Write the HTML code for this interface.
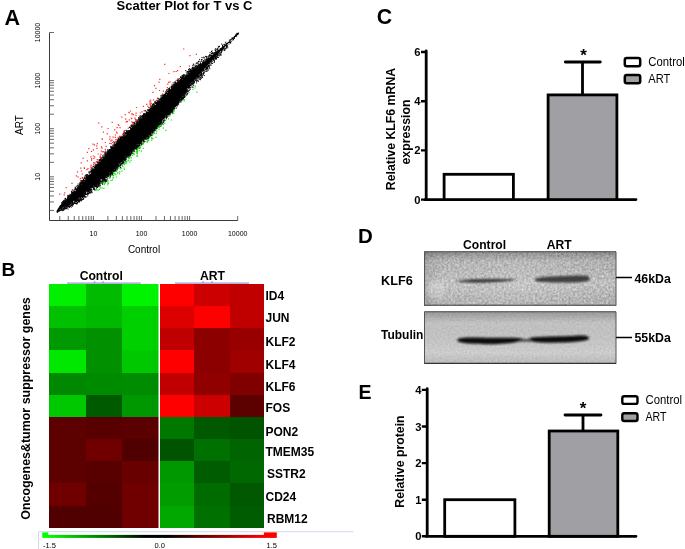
<!DOCTYPE html>
<html><head><meta charset="utf-8"><title>Figure</title>
<style>
html,body{margin:0;padding:0;background:#fff;}
body{width:685px;height:549px;overflow:hidden;}
svg{display:block;}
text{font-family:"Liberation Sans",Arial,sans-serif;fill:#000;}
.b{font-weight:bold;}
</style></head><body>
<svg width="685" height="549" viewBox="0 0 685 549">
<defs><filter id="nz" x="0" y="0" width="100%" height="100%" color-interpolation-filters="sRGB"><feTurbulence type="fractalNoise" baseFrequency="0.45" numOctaves="2" seed="4"/><feColorMatrix type="matrix" values="0.42 0 0 0 0.5  0.42 0 0 0 0.5  0.42 0 0 0 0.5  0 0 0 0 1"/></filter>
<filter id="nz2" x="0" y="0" width="100%" height="100%" color-interpolation-filters="sRGB"><feTurbulence type="fractalNoise" baseFrequency="0.5" numOctaves="2" seed="9"/><feColorMatrix type="matrix" values="0.14 0 0 0 0.71  0.14 0 0 0 0.71  0.14 0 0 0 0.71  0 0 0 0 1"/></filter>
<linearGradient id="g1" x1="0" x2="1" y1="0" y2="0"><stop offset="0" stop-color="#888" stop-opacity="0.25"/><stop offset="0.12" stop-color="#fff" stop-opacity="0.12"/><stop offset="0.5" stop-color="#fff" stop-opacity="0.18"/><stop offset="1" stop-color="#fff" stop-opacity="0.05"/></linearGradient>
<linearGradient id="g1v" x1="0" x2="0" y1="0" y2="1"><stop offset="0" stop-color="#000" stop-opacity="0.28"/><stop offset="0.18" stop-color="#000" stop-opacity="0.05"/><stop offset="0.6" stop-color="#fff" stop-opacity="0.08"/><stop offset="1" stop-color="#000" stop-opacity="0.06"/></linearGradient>
<linearGradient id="g2v" x1="0" x2="0" y1="0" y2="1"><stop offset="0" stop-color="#000" stop-opacity="0.25"/><stop offset="0.22" stop-color="#000" stop-opacity="0.03"/><stop offset="0.8" stop-color="#fff" stop-opacity="0.1"/><stop offset="1" stop-color="#000" stop-opacity="0.05"/></linearGradient>
<filter id="bl1" x="-10%" y="-60%" width="120%" height="220%"><feGaussianBlur stdDeviation="1.6 1.1"/></filter>
<filter id="bl3" x="-10%" y="-60%" width="120%" height="220%"><feGaussianBlur stdDeviation="1.3 0.8"/></filter>
<filter id="bl2" x="-10%" y="-60%" width="120%" height="220%"><feGaussianBlur stdDeviation="1.2 0.9"/></filter>
<linearGradient id="cb" x1="0" x2="1" y1="0" y2="0"><stop offset="0" stop-color="#00ff00"/><stop offset="0.3" stop-color="#006000"/><stop offset="0.45" stop-color="#000"/><stop offset="0.55" stop-color="#000"/><stop offset="0.7" stop-color="#600000"/><stop offset="1" stop-color="#ff0000"/></linearGradient>
</defs>
<!-- Panel A -->
<text class="b" x="4.5" y="24.6" font-size="21.5">A</text>
<text class="b" x="184.5" y="10" font-size="13" text-anchor="middle">Scatter Plot for T vs C</text>
<path d="M49.5 32.50V220.5H237.70" fill="none" stroke="#3a3a3a" stroke-width="1"/>
<path d="M59.78 220.5v-4.5M49.5 210.42h4.5M68.25 220.5v-4.5M49.5 201.95h4.5M74.26 220.5v-4.5M49.5 195.94h4.5M78.92 220.5v-4.5M49.5 191.28h4.5M82.73 220.5v-4.5M49.5 187.47h4.5M85.95 220.5v-4.5M49.5 184.25h4.5M88.74 220.5v-4.5M49.5 181.46h4.5M91.20 220.5v-4.5M49.5 179.00h4.5M93.40 220.5v-4.5M49.5 176.80h4.5M107.88 220.5v-4.5M49.5 162.32h4.5M116.35 220.5v-4.5M49.5 153.85h4.5M122.36 220.5v-4.5M49.5 147.84h4.5M127.02 220.5v-4.5M49.5 143.18h4.5M130.83 220.5v-4.5M49.5 139.37h4.5M134.05 220.5v-4.5M49.5 136.15h4.5M136.84 220.5v-4.5M49.5 133.36h4.5M139.30 220.5v-4.5M49.5 130.90h4.5M141.50 220.5v-4.5M49.5 128.70h4.5M155.98 220.5v-4.5M49.5 114.22h4.5M164.45 220.5v-4.5M49.5 105.75h4.5M170.46 220.5v-4.5M49.5 99.74h4.5M175.12 220.5v-4.5M49.5 95.08h4.5M178.93 220.5v-4.5M49.5 91.27h4.5M182.15 220.5v-4.5M49.5 88.05h4.5M184.94 220.5v-4.5M49.5 85.26h4.5M187.40 220.5v-4.5M49.5 82.80h4.5M189.60 220.5v-4.5M49.5 80.60h4.5M237.70 220.5v-4.5M49.5 32.50h4.5" fill="none" stroke="#444" stroke-width="0.8"/>
<text x="93.4" y="235.8" font-size="7" text-anchor="middle">10</text>
<text transform="translate(39.5 176.8) rotate(-90)" font-size="7" text-anchor="middle">10</text>
<text x="141.5" y="235.8" font-size="7" text-anchor="middle">100</text>
<text transform="translate(39.5 128.7) rotate(-90)" font-size="7" text-anchor="middle">100</text>
<text x="189.6" y="235.8" font-size="7" text-anchor="middle">1000</text>
<text transform="translate(39.5 80.6) rotate(-90)" font-size="7" text-anchor="middle">1000</text>
<text x="237.7" y="235.8" font-size="7" text-anchor="middle">10000</text>
<text transform="translate(39.5 32.5) rotate(-90)" font-size="7" text-anchor="middle">10000</text>
<text x="144" y="253.3" font-size="10" text-anchor="middle">Control</text>
<text transform="translate(23 125) rotate(-90)" font-size="10" text-anchor="middle">ART</text>
<polygon points="56.5,211.2 57.5,209.8 58.5,208.4 59.5,206.9 60.5,205.4 61.5,204.0 62.5,203.1 63.5,202.2 64.5,201.4 65.5,200.5 66.5,199.6 67.5,198.8 68.5,197.9 69.5,197.0 70.5,196.1 71.5,195.2 72.5,194.2 73.5,193.3 74.5,192.4 75.5,191.4 76.5,190.4 77.5,189.4 78.5,188.3 79.5,187.2 80.5,186.0 81.5,184.9 82.5,183.7 83.5,182.6 84.5,181.4 85.5,180.3 86.5,179.1 87.5,178.0 88.5,176.8 89.5,175.7 90.5,174.5 91.5,173.3 92.5,172.2 93.5,171.0 94.5,169.8 95.5,168.6 96.5,167.5 97.5,166.3 98.5,165.1 99.5,163.9 100.5,162.7 101.5,161.5 102.5,160.3 103.5,159.1 104.5,157.9 105.5,156.8 106.5,155.7 107.5,154.6 108.5,153.4 109.5,152.3 110.5,151.3 111.5,150.3 112.5,149.2 113.5,148.2 114.5,147.2 115.5,146.2 116.5,145.2 117.5,144.1 118.5,143.1 119.5,142.1 120.5,141.1 121.5,140.1 122.5,139.0 123.5,138.0 124.5,137.0 125.5,136.0 126.5,135.0 127.5,133.9 128.5,132.9 129.5,131.9 130.5,130.9 131.5,129.9 132.5,128.8 133.5,127.8 134.5,126.8 135.5,125.8 136.5,124.8 137.5,123.8 138.5,122.7 139.5,121.7 140.5,120.7 141.5,119.7 142.5,118.7 143.5,117.6 144.5,116.6 145.5,115.6 146.5,114.6 147.5,113.6 148.5,112.5 149.5,111.5 150.5,110.5 151.5,109.5 152.5,108.5 153.5,107.5 154.5,106.5 155.5,105.5 156.5,104.5 157.5,103.5 158.5,102.4 159.5,101.4 160.5,100.4 161.5,99.4 162.5,98.4 163.5,97.4 164.5,96.4 165.5,95.4 166.5,94.4 167.5,93.4 168.5,92.4 169.5,91.4 170.5,90.4 171.5,89.5 172.5,88.7 173.5,87.8 174.5,86.9 175.5,86.0 176.5,85.1 177.5,84.2 178.5,83.3 179.5,82.4 180.5,81.5 181.5,80.6 182.5,79.7 183.5,78.8 184.5,77.9 185.5,77.0 186.5,76.1 187.5,75.2 188.5,74.3 189.5,73.3 190.5,72.4 191.5,71.5 192.5,70.7 193.5,69.9 194.5,69.2 195.5,68.4 196.5,67.7 197.5,66.9 198.5,66.2 199.5,65.4 200.5,64.6 201.5,63.9 202.5,63.1 203.5,62.3 204.5,61.5 205.5,60.7 206.5,60.0 207.5,59.2 208.5,58.4 209.5,57.6 210.5,56.8 211.5,56.0 212.5,55.2 213.5,54.3 214.5,53.5 215.5,52.7 216.5,51.9 217.5,51.1 218.5,50.2 219.5,49.4 220.5,48.6 221.5,47.7 222.5,46.9 223.5,46.1 224.5,45.2 225.5,44.4 226.5,43.5 227.5,42.6 228.5,41.7 229.5,40.8 230.5,39.9 231.5,39.0 232.5,38.1 233.5,37.2 234.5,36.2 235.5,35.2 236.5,34.3 237.5,33.3 238.5,32.3 238.8,32.0 238.8,32.6 238.5,32.9 237.5,33.9 236.5,34.9 235.5,35.8 234.5,36.8 233.5,37.9 232.5,38.9 231.5,39.9 230.5,41.0 229.5,42.0 228.5,43.1 227.5,44.2 226.5,45.2 225.5,46.2 224.5,47.2 223.5,48.2 222.5,49.2 221.5,50.3 220.5,51.3 219.5,52.3 218.5,53.4 217.5,54.4 216.5,55.4 215.5,56.5 214.5,57.6 213.5,58.7 212.5,59.8 211.5,60.9 210.5,62.0 209.5,63.1 208.5,64.2 207.5,65.3 206.5,66.4 205.5,67.5 204.5,68.7 203.5,69.8 202.5,70.8 201.5,71.8 200.5,72.9 199.5,73.9 198.5,75.0 197.5,76.0 196.5,77.1 195.5,78.2 194.5,79.2 193.5,80.3 192.5,81.4 191.5,82.5 190.5,83.8 189.5,85.0 188.5,86.3 187.5,87.6 186.5,88.9 185.5,90.2 184.5,91.5 183.5,92.8 182.5,94.1 181.5,95.4 180.5,96.7 179.5,98.0 178.5,99.3 177.5,100.7 176.5,102.0 175.5,103.3 174.5,104.5 173.5,105.7 172.5,107.0 171.5,108.2 170.5,109.4 169.5,110.5 168.5,111.6 167.5,112.6 166.5,113.7 165.5,114.8 164.5,115.9 163.5,117.0 162.5,118.0 161.5,119.1 160.5,120.2 159.5,121.3 158.5,122.3 157.5,123.4 156.5,124.5 155.5,125.6 154.5,126.6 153.5,127.7 152.5,128.8 151.5,129.9 150.5,130.9 149.5,132.0 148.5,133.0 147.5,134.0 146.5,135.0 145.5,136.0 144.5,137.0 143.5,138.0 142.5,139.0 141.5,140.0 140.5,141.0 139.5,142.0 138.5,143.0 137.5,144.0 136.5,145.0 135.5,146.0 134.5,147.0 133.5,148.0 132.5,149.0 131.5,150.0 130.5,151.0 129.5,152.0 128.5,153.0 127.5,154.0 126.5,155.0 125.5,156.0 124.5,157.0 123.5,158.0 122.5,159.0 121.5,160.0 120.5,161.0 119.5,162.0 118.5,163.0 117.5,164.0 116.5,165.0 115.5,166.0 114.5,167.0 113.5,168.0 112.5,169.0 111.5,170.0 110.5,171.0 109.5,172.0 108.5,172.9 107.5,173.8 106.5,174.7 105.5,175.6 104.5,176.4 103.5,177.2 102.5,178.0 101.5,178.8 100.5,179.6 99.5,180.4 98.5,181.2 97.5,182.0 96.5,182.8 95.5,183.6 94.5,184.4 93.5,185.2 92.5,186.0 91.5,186.8 90.5,187.6 89.5,188.5 88.5,189.3 87.5,190.1 86.5,190.9 85.5,191.7 84.5,192.6 83.5,193.4 82.5,194.2 81.5,195.1 80.5,195.9 79.5,196.7 78.5,197.6 77.5,198.3 76.5,199.0 75.5,199.6 74.5,200.3 73.5,201.0 72.5,201.7 71.5,202.5 70.5,203.2 69.5,203.8 68.5,204.4 67.5,204.9 66.5,205.5 65.5,206.1 64.5,206.7 63.5,207.2 62.5,207.8 61.5,208.4 60.5,209.0 59.5,209.7 58.5,210.4 57.5,211.0 56.5,211.8" fill="#000"/>
<path d="M115.5 147.2h1M123.2 139.6h1M69.2 206.1h1M97.2 165.2h1M234.5 36.4h1M78.0 189.1h1M173.0 89.6h1M94.0 185.0h1M139.1 120.3h1M161.2 97.7h1M132.7 149.2h1M178.3 79.9h1M183.3 77.9h1M177.6 81.9h1M206.3 68.5h1M140.7 139.9h1M80.1 199.5h1M138.4 119.6h1M107.3 178.0h1M84.0 192.9h1M163.9 116.8h1M182.4 78.0h1M128.0 154.7h1M68.8 204.2h1M75.0 203.4h1M83.6 193.5h1M141.4 139.0h1M104.8 175.4h1M152.8 109.4h1M183.4 92.7h1M153.6 127.4h1M191.4 71.4h1M61.6 209.8h1M138.0 118.8h1M96.7 182.4h1M143.9 118.1h1M193.3 83.7h1M128.7 130.9h1M79.7 184.3h1M176.3 86.4h1M152.5 132.5h1M95.0 183.9h1M103.8 181.0h1M140.0 120.4h1M148.0 114.4h1M89.9 175.6h1M188.7 87.5h1M199.5 65.5h1M197.3 63.7h1M137.3 122.9h1M139.0 147.0h1M103.8 155.7h1M78.7 197.1h1M178.5 83.7h1M176.9 80.0h1M208.3 65.7h1M92.2 173.5h1M136.8 146.2h1M75.6 202.0h1M80.1 183.6h1M160.5 119.2h1M134.0 125.5h1M139.2 118.1h1M80.1 195.5h1M65.7 206.4h1M109.4 171.8h1M102.2 159.7h1M143.0 141.3h1M146.7 135.8h1M172.4 105.7h1M103.1 181.2h1M178.7 99.0h1M85.2 197.2h1M156.2 104.9h1M143.0 138.9h1M104.7 174.8h1M112.0 148.6h1M176.4 85.0h1M188.5 90.2h1M170.9 90.8h1M148.4 109.5h1M182.9 92.9h1M158.3 100.8h1M192.9 68.4h1M190.8 83.6h1M93.9 169.6h1M143.8 115.7h1M70.6 205.0h1M160.0 120.6h1M182.7 95.1h1M141.5 119.9h1M227.2 46.7h1M138.4 147.2h1M162.5 94.4h1M145.1 137.1h1M111.5 170.2h1M209.5 54.8h1M109.3 177.9h1M122.3 157.8h1M208.7 58.3h1M149.6 136.7h1M156.6 126.5h1M193.7 79.6h1M79.7 197.0h1M176.1 85.3h1M86.0 178.9h1M138.5 141.8h1M73.1 203.0h1M193.2 82.0h1M118.2 167.7h1M148.3 113.5h1M101.8 183.6h1M215.6 58.7h1M142.8 139.3h1M76.4 188.1h1M188.1 73.6h1M174.2 104.8h1M183.9 93.7h1M127.2 135.7h1M140.5 117.2h1M99.3 162.0h1M179.5 100.5h1M97.8 182.5h1M92.6 171.2h1M206.0 69.8h1M90.6 189.9h1M83.2 198.4h1M66.0 208.7h1M192.6 70.1h1M117.0 164.2h1M121.5 139.9h1M142.8 119.0h1M220.0 54.4h1M63.9 209.2h1M118.3 142.0h1M187.1 87.2h1M228.5 44.1h1M102.3 182.3h1M167.2 113.3h1M70.9 196.0h1M104.8 177.3h1M138.0 145.2h1M177.6 84.1h1M124.5 156.5h1M161.9 123.9h1M98.7 159.5h1M143.0 114.5h1M110.0 176.3h1M103.9 159.5h1M169.5 109.5h1M103.0 160.6h1M116.2 165.0h1M68.0 205.8h1M73.1 193.2h1M113.4 168.8h1M92.4 185.3h1M133.8 151.2h1M86.1 177.3h1M124.1 157.2h1M225.2 48.8h1M92.5 167.0h1M127.2 131.6h1M199.8 77.8h1M89.9 189.3h1M78.9 184.4h1M159.0 124.5h1M165.8 95.3h1M162.7 97.7h1M145.7 112.8h1M89.2 188.1h1M73.2 194.1h1M198.3 76.5h1M146.2 115.4h1M226.1 46.9h1M205.2 56.6h1M104.4 175.1h1M77.5 188.6h1M157.7 103.8h1M171.3 89.6h1M161.8 98.9h1M192.1 70.8h1M177.5 99.3h1M168.8 88.9h1M97.9 180.3h1M75.9 201.0h1M93.7 184.8h1M100.9 181.4h1M199.1 73.6h1M159.0 101.1h1M190.2 73.5h1M130.5 153.2h1M156.9 123.5h1M148.9 112.9h1M111.2 147.8h1M192.3 70.0h1M75.7 200.1h1M186.2 75.2h1M151.9 104.6h1M216.9 55.3h1M116.1 165.4h1M171.5 84.7h1M188.6 86.1h1M82.9 198.1h1M82.4 196.7h1M183.6 94.3h1M219.0 46.3h1M76.0 198.9h1M108.9 174.7h1M114.7 166.3h1M187.0 93.6h1M136.1 147.5h1M87.6 193.1h1M146.1 136.1h1M208.1 58.6h1M184.0 93.8h1M121.3 163.4h1M218.5 53.9h1M147.9 113.6h1M153.4 106.0h1M116.1 143.7h1M87.4 176.8h1M140.7 140.0h1M84.7 192.7h1M85.8 196.7h1M75.0 188.9h1M135.8 126.7h1M127.3 157.0h1M147.7 133.0h1M130.3 130.6h1M193.1 83.8h1M173.5 107.1h1M133.0 127.0h1M133.7 127.1h1M175.8 104.2h1M74.9 189.7h1M173.0 87.4h1M94.8 186.6h1M66.8 204.7h1M133.2 147.8h1M152.6 108.4h1M142.0 144.0h1M173.0 87.7h1M156.4 104.1h1M105.3 176.1h1M107.8 174.2h1M172.7 111.1h1M171.9 112.1h1M102.1 178.3h1M119.7 139.6h1M209.4 56.0h1M136.5 125.3h1M81.9 195.4h1M146.1 112.1h1M159.1 101.8h1M231.6 38.5h1M167.6 92.9h1M149.6 112.5h1M170.5 90.3h1M152.3 129.4h1M157.5 126.3h1M148.3 107.6h1M200.9 72.9h1M172.2 109.7h1M155.9 123.5h1M176.5 83.4h1M170.8 88.6h1M178.1 84.8h1M123.7 136.8h1M111.6 170.5h1M226.7 43.9h1M131.7 130.5h1M59.3 206.9h1M80.0 186.4h1M90.7 171.6h1M189.5 70.8h1M58.6 207.8h1M113.2 171.5h1M67.4 198.1h1M122.7 138.5h1M109.8 149.7h1M117.0 141.6h1M112.8 148.6h1M166.2 95.3h1M104.5 154.6h1M160.8 97.3h1M72.0 194.6h1M167.1 112.3h1M140.3 118.6h1M162.2 97.9h1M163.9 116.0h1M122.6 159.5h1M124.7 134.5h1M165.4 97.1h1M145.2 138.9h1M102.8 176.9h1M128.9 132.7h1M178.6 99.0h1M63.5 209.8h1M209.1 55.3h1M236.1 35.9h1M179.9 79.7h1M115.6 166.4h1M100.0 164.4h1M92.1 172.5h1M82.0 199.2h1M171.1 111.5h1M171.0 107.8h1M157.4 103.9h1M84.9 180.9h1M146.0 115.6h1M178.3 99.3h1M93.3 164.9h1M74.3 193.0h1M118.6 165.9h1M90.4 174.8h1M81.7 182.6h1M71.0 194.9h1M94.1 167.1h1M93.4 170.3h1M117.6 143.6h1M215.5 59.2h1M86.3 180.3h1M137.8 146.1h1M186.1 77.0h1M150.1 111.8h1M97.3 182.3h1M62.0 204.0h1M165.8 93.5h1M64.7 207.1h1M78.7 199.3h1M83.3 182.9h1M133.2 127.5h1M198.1 75.8h1M211.0 51.5h1M101.9 160.7h1M69.1 198.2h1M217.8 50.5h1M106.3 154.4h1M151.4 110.0h1M174.5 82.2h1M105.4 157.9h1M80.4 195.9h1M72.5 192.7h1M175.1 85.6h1M168.2 111.3h1M149.9 112.5h1M213.6 53.3h1M197.3 80.3h1M67.8 206.3h1M191.2 83.6h1M168.9 91.0h1M143.1 114.4h1M215.3 51.4h1M132.7 127.3h1M139.0 122.5h1M157.7 126.0h1M147.6 133.5h1M161.4 122.9h1M134.2 146.1h1M147.2 112.5h1M150.8 110.0h1M164.9 94.2h1M74.5 201.7h1M145.2 110.4h1M153.1 128.4h1M182.3 76.0h1M85.0 180.0h1M89.8 174.6h1M172.5 109.4h1M182.4 97.8h1M178.3 100.7h1M174.4 85.7h1M78.6 189.0h1M87.6 175.9h1M67.8 198.0h1M121.0 159.9h1M162.6 117.8h1M169.6 114.6h1M113.9 147.9h1M127.6 154.2h1M144.8 135.9h1M109.5 172.9h1M130.0 154.3h1M101.2 178.4h1M177.6 102.5h1M105.7 176.3h1M203.2 72.7h1M97.9 183.7h1M123.6 138.1h1M78.9 187.6h1M126.7 135.0h1M72.2 194.1h1M76.4 200.0h1M68.5 204.2h1M108.0 151.1h1M213.5 58.3h1M177.5 102.8h1M101.8 180.1h1M190.3 82.8h1M92.6 184.8h1M172.9 86.9h1M102.9 160.0h1M108.7 152.2h1M101.1 162.1h1M193.1 69.3h1M207.6 69.9h1M171.0 110.6h1M149.8 133.8h1M184.6 93.2h1M172.7 105.5h1M131.5 149.3h1M178.7 100.2h1M111.1 171.5h1M195.1 66.8h1M77.4 197.9h1M107.7 154.0h1M115.7 164.8h1M193.3 64.3h1M76.3 198.9h1M174.0 85.8h1M101.3 182.0h1M110.5 147.8h1M116.1 145.8h1M157.0 104.8h1M159.8 98.8h1M147.6 134.9h1M181.9 99.8h1M91.3 190.7h1M200.0 75.8h1M133.3 150.3h1M221.3 51.3h1M120.0 161.5h1M204.4 59.8h1M144.1 137.7h1M61.6 203.8h1M176.9 84.2h1M159.5 121.0h1M156.4 105.2h1M153.3 128.9h1M160.9 99.1h1M130.9 154.0h1M186.8 94.7h1M128.0 132.1h1M67.0 204.7h1M95.4 167.8h1M169.7 87.1h1M87.1 193.3h1M207.0 68.9h1M188.1 75.3h1M202.9 60.5h1M91.7 171.9h1M60.3 205.7h1M109.4 171.6h1M154.7 102.3h1M118.9 139.1h1M63.0 201.6h1M143.2 117.3h1M167.9 112.1h1M163.9 116.6h1M161.7 117.7h1M117.3 168.9h1M83.1 193.8h1M104.3 153.0h1M172.2 110.3h1M111.9 148.9h1M120.4 159.9h1M144.3 136.7h1M81.2 184.4h1M160.2 119.3h1M112.7 145.0h1M71.1 191.3h1M197.7 67.5h1M103.4 177.3h1M96.3 184.9h1M174.6 81.9h1M81.4 181.3h1M116.1 145.1h1M118.1 162.4h1M117.5 144.5h1M188.5 85.6h1M196.4 66.8h1M163.8 95.9h1M191.6 68.1h1M112.9 148.5h1M151.9 128.1h1M176.0 108.0h1M194.4 78.5h1M148.0 137.7h1M83.7 178.4h1M147.5 136.8h1M115.5 167.8h1M174.2 88.2h1M131.2 128.8h1M102.4 177.5h1M96.0 187.1h1M105.2 157.4h1M145.0 138.5h1M139.1 122.4h1M122.2 139.7h1M61.0 204.8h1M74.3 193.2h1M62.5 202.3h1M148.5 131.6h1M216.7 55.0h1M89.1 191.3h1M77.0 202.5h1M106.3 173.5h1M149.2 112.0h1M181.9 78.7h1M187.3 89.0h1M127.1 154.1h1M167.9 111.4h1M222.1 46.7h1M156.6 105.5h1M99.2 163.6h1M128.2 131.5h1M171.1 109.8h1M188.0 86.5h1M152.0 109.7h1M173.3 84.9h1M126.0 136.6h1M102.3 181.2h1M139.0 148.3h1M138.4 120.7h1M180.5 81.8h1M118.5 162.5h1M67.0 199.2h1M100.6 181.6h1M93.3 169.6h1M123.4 158.5h1M204.3 71.0h1M186.3 76.3h1M194.3 67.7h1M194.5 68.1h1M142.8 139.4h1M191.5 84.9h1M78.0 200.7h1M159.4 99.5h1M132.7 125.5h1M83.0 183.7h1M106.6 174.6h1M157.8 121.8h1M212.7 59.1h1M124.6 158.0h1M202.6 61.6h1M113.8 168.7h1M106.4 177.2h1M164.4 95.6h1M67.0 199.4h1M158.8 124.0h1M110.3 151.9h1M94.2 187.9h1M132.1 153.3h1M84.7 181.7h1M110.0 151.8h1M115.6 169.0h1M127.9 155.0h1M156.0 127.2h1M180.3 82.1h1M152.5 131.2h1M226.0 47.9h1M155.1 126.1h1M210.6 57.2h1M65.6 206.2h1M110.9 151.8h1M140.6 121.4h1M80.6 196.5h1M86.4 178.7h1M83.7 182.9h1M154.2 126.3h1M148.9 132.7h1M79.7 185.5h1M145.5 113.8h1M193.2 79.6h1M151.0 111.0h1M99.1 162.4h1M101.3 162.8h1M182.6 97.1h1M224.4 44.8h1M72.6 192.6h1M119.3 161.6h1M200.8 76.1h1M193.5 82.6h1M199.9 64.8h1M192.4 65.5h1M135.9 122.2h1M228.9 40.1h1M209.3 64.1h1M146.3 112.8h1M207.0 68.3h1M118.4 141.0h1M145.7 138.7h1M166.7 112.9h1M109.8 173.7h1M177.0 103.0h1M206.5 71.3h1M167.7 113.5h1M86.1 191.3h1M139.4 141.9h1M157.3 103.2h1M137.5 145.9h1M125.0 132.7h1M181.1 98.9h1M62.9 210.4h1M82.8 184.2h1M192.7 83.9h1M155.7 103.3h1M179.8 79.6h1M107.1 151.7h1M119.8 138.6h1M191.1 82.0h1M112.9 168.5h1M76.3 200.1h1M105.1 156.2h1M172.6 106.3h1M142.2 116.7h1M122.6 139.0h1M103.8 180.2h1M121.0 159.8h1M156.5 103.8h1M76.8 185.4h1M182.7 98.8h1M118.8 143.0h1M151.5 110.5h1M68.5 195.2h1M161.8 99.1h1M84.1 180.5h1M216.7 49.7h1M106.6 152.6h1M95.3 186.2h1M202.7 63.2h1M115.8 146.9h1M67.3 197.2h1M207.3 67.4h1M116.8 167.1h1M154.4 107.8h1M133.8 125.3h1M129.4 132.1h1M236.3 34.9h1M181.0 96.2h1M129.9 153.8h1M136.5 125.6h1M158.6 99.7h1M187.7 86.7h1M188.1 87.0h1M112.2 169.7h1M203.2 69.4h1M198.2 61.5h1M143.3 137.3h1M149.1 131.4h1M190.0 69.5h1M58.8 208.1h1M141.0 119.5h1M115.4 145.4h1M94.0 170.2h1M164.3 116.8h1M172.5 106.1h1M66.3 207.2h1M100.2 162.5h1M67.9 198.5h1M172.1 106.9h1M202.8 70.9h1M96.5 165.2h1M104.4 178.8h1M86.2 194.4h1M223.6 44.7h1M148.1 110.5h1M109.5 173.8h1M140.0 121.8h1M156.1 127.4h1M211.1 61.8h1M83.4 180.3h1M70.2 195.0h1M139.6 119.6h1M187.1 71.8h1M216.6 50.8h1M102.6 177.7h1M106.5 173.3h1M116.4 141.5h1M153.5 107.5h1M123.4 138.8h1M175.0 85.7h1M72.8 204.6h1M103.9 159.3h1M181.7 77.9h1M103.4 159.9h1M164.3 94.9h1M68.2 204.7h1M77.1 187.9h1M196.8 77.1h1M182.2 80.4h1M118.9 165.3h1M178.8 98.9h1M85.3 178.7h1M82.7 182.8h1M160.3 119.4h1M122.8 161.1h1M123.3 158.1h1M108.5 154.1h1M96.4 184.7h1M215.0 50.4h1M77.6 190.1h1M143.9 137.8h1M68.9 207.5h1M69.5 195.5h1M152.2 132.3h1M71.6 194.0h1M70.1 203.5h1M122.4 138.7h1M150.3 133.5h1M99.2 162.7h1M123.5 157.6h1M220.9 50.5h1M82.1 182.3h1M129.8 155.9h1M143.5 116.5h1M169.7 91.2h1M139.7 121.6h1M119.1 162.4h1M207.4 59.0h1M158.9 121.2h1M81.5 181.5h1M99.2 163.5h1M105.5 174.8h1M75.5 200.2h1M153.0 106.3h1M77.8 187.3h1M91.6 172.0h1M182.7 94.3h1M180.0 80.2h1M179.0 99.7h1M185.8 95.2h1M99.0 165.0h1M98.9 183.1h1M79.8 196.3h1M81.3 194.7h1M121.3 159.5h1M85.8 176.9h1M173.6 83.2h1M196.2 81.1h1M163.8 117.7h1M106.2 174.5h1M104.8 159.1h1M83.6 182.3h1M143.8 136.4h1M183.5 76.4h1M146.2 114.1h1M84.6 194.7h1M73.7 203.2h1M200.7 75.0h1M81.7 185.1h1M100.4 181.0h1M96.8 164.8h1M220.9 52.3h1M85.2 177.3h1M113.0 149.8h1M72.7 193.9h1M92.5 171.0h1M187.1 76.6h1M127.1 156.0h1M114.5 144.8h1M138.0 122.1h1M139.6 141.1h1M222.3 50.6h1M197.0 77.0h1M232.2 40.0h1M75.9 200.9h1M87.3 177.6h1M79.0 188.4h1M109.1 150.8h1M118.3 164.3h1M115.1 146.8h1M132.8 127.7h1M195.7 63.3h1M105.0 176.2h1M76.6 189.5h1M204.7 60.3h1M80.9 198.6h1M216.7 49.4h1M175.4 84.9h1M118.4 140.2h1M118.6 162.6h1M201.7 71.2h1M92.7 189.3h1M113.0 147.8h1M190.3 71.3h1M163.6 96.7h1M94.4 189.5h1M135.3 145.2h1M121.5 137.5h1M135.5 121.9h1M111.5 150.8h1M147.7 138.8h1M158.8 125.8h1M122.4 157.8h1M82.7 182.7h1M103.7 178.0h1M73.3 203.5h1M99.7 164.1h1M163.2 95.5h1M106.2 156.8h1M137.2 147.2h1M82.4 178.2h1M196.2 77.0h1M169.2 110.0h1M91.7 173.5h1M145.1 135.8h1M82.9 196.6h1M130.0 151.7h1M127.9 132.7h1M121.1 140.2h1M110.9 148.3h1M83.0 180.2h1M180.0 80.8h1M89.8 172.7h1M115.4 166.6h1M120.3 139.7h1M117.1 142.1h1M124.0 161.3h1M106.8 155.9h1M60.5 210.0h1M98.1 184.2h1M156.9 128.0h1M91.7 172.9h1M63.4 207.0h1M171.4 107.8h1M135.7 145.7h1M88.4 189.9h1M180.6 99.7h1M138.8 122.5h1M82.5 196.1h1M150.4 110.1h1M160.4 125.1h1M114.2 171.3h1M114.5 168.1h1M106.7 179.0h1M161.0 99.1h1M75.3 203.1h1M188.9 72.1h1M146.5 136.5h1M124.0 131.9h1M160.7 99.3h1M129.6 151.2h1M82.9 199.3h1M191.5 71.1h1M205.1 67.8h1M219.3 53.6h1M189.4 74.0h1M205.0 69.3h1M142.9 142.3h1M171.5 89.3h1M180.8 97.4h1M85.8 179.6h1M81.5 195.1h1M157.5 103.9h1M126.7 153.3h1M79.1 185.8h1M181.5 78.7h1M122.2 163.8h1M233.9 37.7h1M149.0 110.1h1M180.1 96.1h1M160.1 124.3h1M206.8 66.2h1M105.3 156.6h1M130.3 154.5h1M105.8 177.6h1M170.1 111.9h1M121.9 158.5h1M83.7 182.7h1M161.2 120.1h1M67.1 206.8h1M206.7 67.3h1M117.7 165.9h1M139.0 121.1h1M69.2 203.7h1M133.7 123.6h1M84.7 196.6h1M134.7 146.2h1M174.6 87.8h1M117.6 141.9h1M87.1 192.1h1M221.0 51.1h1M105.0 176.6h1M135.0 147.9h1M224.2 44.9h1M178.6 82.9h1M82.3 196.8h1M202.5 70.2h1M188.3 73.7h1M136.3 147.6h1M172.6 86.8h1M125.9 154.3h1M114.5 143.8h1M92.3 186.3h1M149.6 131.7h1M148.4 113.3h1M106.8 152.7h1M149.6 132.4h1M189.8 85.0h1M122.0 140.3h1M179.8 82.6h1M122.2 138.2h1M98.3 184.5h1M145.4 137.0h1M133.3 128.9h1M107.7 154.0h1M91.6 186.5h1M136.6 125.4h1M127.6 154.3h1M117.2 145.4h1M179.4 98.0h1M163.3 115.8h1M174.0 88.4h1M113.3 171.6h1M212.7 54.7h1M105.6 180.6h1M125.8 132.8h1M156.5 105.6h1M193.7 70.4h1M95.2 182.9h1M135.4 148.2h1M149.6 135.0h1M117.7 144.5h1M153.5 130.8h1M132.6 149.0h1M177.3 101.3h1M200.5 63.7h1M61.7 202.5h1M147.1 133.8h1M183.0 79.8h1M87.8 190.9h1M144.6 136.9h1M156.1 103.9h1M137.2 121.8h1M75.9 203.8h1M189.2 73.6h1M151.4 108.8h1M182.0 80.2h1M118.3 161.8h1M170.3 109.3h1M136.7 149.1h1M190.0 89.1h1M168.1 113.8h1M199.8 78.7h1M101.7 178.1h1M149.4 134.7h1M94.7 167.6h1M152.1 108.2h1M200.0 64.2h1M73.7 192.2h1M162.0 117.5h1M102.8 158.3h1M109.7 150.0h1M136.1 126.1h1M131.6 149.7h1M127.2 155.3h1M143.1 139.5h1M92.8 170.3h1M96.2 185.3h1M160.9 120.1h1M173.8 106.8h1M215.2 56.3h1M72.2 202.1h1M124.2 138.4h1M94.6 168.7h1M128.0 157.8h1M136.8 121.4h1M89.0 175.5h1M158.5 102.7h1M214.1 61.7h1M171.7 106.9h1M186.4 91.2h1M176.4 102.3h1M117.9 143.7h1M112.2 150.2h1M123.7 158.5h1M78.8 202.0h1M135.9 125.3h1M208.3 58.6h1M215.8 58.3h1M84.3 197.4h1M99.9 178.9h1M163.4 120.7h1M111.5 170.0h1M142.8 137.9h1M73.0 193.8h1M132.5 151.7h1M191.8 70.3h1M213.9 60.4h1M187.9 86.7h1M107.8 173.4h1M146.9 135.5h1M187.7 91.4h1M103.4 159.3h1M174.6 87.5h1M88.5 177.2h1M186.6 76.7h1M174.9 103.9h1M127.8 155.9h1M175.0 85.6h1M141.4 142.6h1M200.1 74.3h1M178.5 100.5h1M117.9 165.5h1M211.1 56.1h1M128.5 152.9h1M98.1 180.8h1M162.6 118.1h1M218.1 50.8h1M156.7 125.1h1M129.3 130.7h1M171.0 87.1h1M116.0 164.5h1M174.2 84.5h1M140.7 140.0h1M204.0 57.9h1M81.2 200.2h1M137.7 123.8h1M88.3 188.4h1M131.6 153.3h1M163.4 117.8h1M174.2 106.8h1M93.4 184.1h1M133.6 122.8h1M163.3 117.2h1M169.7 91.0h1M130.2 128.4h1M77.6 184.0h1M177.7 80.5h1M101.6 178.9h1M168.9 88.1h1M237.4 34.2h1M143.6 115.1h1M216.3 52.5h1M202.4 71.1h1M152.9 130.0h1M101.6 179.2h1M88.4 172.9h1M105.9 156.8h1M128.9 133.7h1M84.9 194.6h1M149.0 109.3h1M98.3 162.5h1M172.0 88.8h1M181.1 79.7h1M102.4 182.0h1M100.7 163.1h1M196.2 77.9h1M141.6 138.8h1M216.9 56.9h1M178.2 102.0h1M131.1 150.2h1M199.5 65.9h1M109.9 152.5h1M108.0 153.4h1M138.5 123.3h1M75.3 191.9h1M126.2 135.4h1M172.5 87.0h1M150.4 132.1h1M143.6 142.0h1M237.1 33.5h1M207.6 58.0h1M92.3 172.7h1M96.8 184.3h1M123.1 159.3h1M131.9 149.3h1M164.2 115.7h1M146.5 113.7h1M66.3 207.9h1M99.6 181.6h1M64.3 200.4h1M111.5 148.8h1M170.5 108.7h1M139.1 145.3h1M175.7 85.9h1M179.0 83.8h1M98.5 182.2h1M111.5 150.2h1M120.3 138.1h1M127.3 153.9h1M156.8 123.2h1M96.3 183.0h1M137.3 124.5h1M165.5 114.6h1M74.0 191.7h1M189.9 73.7h1M102.4 182.2h1M108.2 152.8h1M115.0 169.7h1M208.9 67.6h1M95.2 182.9h1M102.1 178.4h1M119.1 141.4h1M116.6 144.0h1M99.9 163.1h1M177.8 83.0h1M90.7 187.2h1M83.6 195.9h1M170.1 109.6h1M142.2 140.0h1M218.9 46.7h1M193.1 85.7h1M114.4 169.1h1M202.9 62.3h1M180.0 76.9h1M189.1 90.1h1M165.0 114.5h1M105.8 181.3h1M94.8 167.4h1M80.4 187.1h1M146.4 136.3h1M133.1 149.2h1M160.4 99.3h1M95.7 183.2h1M132.7 127.6h1M183.7 78.4h1M94.1 167.8h1M119.2 137.8h1M94.8 166.7h1M198.6 61.2h1M176.1 105.2h1M80.0 197.2h1M122.4 159.6h1M73.0 193.2h1M164.4 115.1h1M141.3 144.1h1M100.4 159.8h1M127.1 130.7h1M77.3 187.3h1M83.0 183.7h1M177.8 79.4h1M74.7 200.6h1M189.6 85.4h1M115.7 146.4h1M116.8 144.8h1M76.7 188.5h1M62.7 203.2h1M169.2 91.9h1M106.7 174.2h1M222.1 49.3h1M117.1 144.3h1M128.8 131.9h1M152.3 128.5h1M183.9 79.0h1M117.8 145.0h1M135.5 145.8h1M156.8 123.9h1M119.6 139.7h1M175.7 102.2h1M152.8 107.9h1M118.7 142.9h1M77.9 201.6h1M74.9 187.2h1M180.8 95.9h1M120.3 165.1h1M86.5 178.2h1M215.9 56.3h1M143.3 114.1h1M82.6 184.3h1M201.3 74.3h1M80.9 195.0h1M157.0 126.3h1M116.6 140.9h1M154.2 107.9h1M115.2 147.3h1M182.9 93.4h1M140.5 141.0h1M120.9 164.1h1M157.7 126.9h1M112.1 173.6h1M157.5 124.2h1M224.2 49.1h1M226.2 45.9h1M84.3 182.0h1M129.1 157.2h1M180.5 80.3h1M122.8 138.1h1M231.6 38.0h1M211.4 63.5h1M174.7 103.4h1M115.2 165.6h1M137.5 123.3h1M207.1 66.1h1M96.9 182.1h1M152.8 107.0h1M111.2 148.6h1M141.1 141.2h1M88.5 171.7h1M120.2 164.3h1M112.2 148.0h1M227.2 47.8h1M104.6 178.1h1M103.3 178.3h1M102.9 160.0h1M175.5 86.9h1M120.0 167.4h1M140.1 117.0h1M106.6 153.1h1M158.4 125.3h1M154.4 130.7h1M90.2 174.5h1M80.5 182.2h1M88.3 175.5h1M99.7 164.3h1M183.1 94.5h1M115.6 165.1h1M184.2 78.9h1M170.8 90.8h1M178.6 101.1h1M142.7 117.1h1M90.4 170.2h1M158.0 124.6h1M101.7 160.5h1M136.1 125.9h1M235.9 35.8h1M178.6 98.1h1M171.8 88.5h1M121.7 139.9h1M115.0 148.1h1M167.6 114.9h1M152.1 135.0h1M184.1 95.6h1M171.5 112.1h1M120.1 137.5h1M200.8 72.3h1M99.3 180.3h1M232.1 38.5h1M67.5 209.0h1M184.5 77.7h1M161.0 101.3h1M113.3 170.5h1M168.8 89.2h1M98.0 181.2h1M104.7 176.3h1M144.3 115.1h1M199.7 79.8h1M79.6 198.3h1M126.2 154.8h1M115.6 165.5h1M146.4 138.9h1M93.9 171.1h1M158.8 123.6h1M171.1 107.3h1M221.5 47.9h1M126.0 156.8h1M99.1 183.4h1M81.3 183.3h1M94.7 183.8h1M70.5 194.8h1M96.4 168.9h1M159.7 123.3h1M163.9 120.6h1M133.6 122.2h1M154.7 101.3h1M195.0 68.0h1M199.0 64.6h1M185.3 70.5h1M104.6 180.8h1M121.7 160.7h1M75.7 199.2h1M120.0 141.7h1M120.6 139.9h1M57.5 211.1h1M136.6 123.0h1M207.5 70.3h1M162.6 98.0h1M108.2 173.2h1M97.1 187.4h1M94.9 185.0h1M121.6 163.5h1M103.5 175.9h1M213.9 59.0h1M104.5 156.8h1M164.9 96.9h1M81.5 184.0h1M154.5 101.9h1M236.0 35.2h1M81.8 180.9h1M75.6 188.9h1M133.7 151.0h1M65.2 207.1h1M121.2 161.3h1M74.4 201.0h1M182.5 92.9h1M195.4 66.9h1M95.9 166.2h1M58.4 208.7h1M214.5 50.0h1M167.4 91.8h1M150.8 132.0h1M76.0 189.7h1M100.0 163.0h1M172.9 88.3h1M186.5 75.8h1M171.3 109.3h1M97.2 182.3h1M180.3 98.9h1M123.0 137.5h1M96.1 185.0h1M150.8 134.8h1M92.6 170.8h1M195.5 80.8h1M175.4 104.3h1M166.2 117.7h1M86.5 175.4h1M203.7 73.0h1M184.9 92.8h1M169.1 111.8h1M117.0 163.5h1M174.3 87.7h1M155.5 124.7h1M154.8 126.4h1M185.9 90.6h1M98.1 183.1h1M105.2 174.9h1M169.7 90.5h1M183.3 96.8h1M149.7 132.1h1M108.1 152.3h1M105.2 154.2h1M102.9 177.0h1M181.5 77.1h1M121.7 139.2h1M97.2 187.1h1M150.3 130.1h1M122.8 139.6h1M212.5 53.3h1M134.0 123.6h1M116.0 143.9h1M70.0 196.1h1M172.3 86.9h1M156.3 103.0h1M89.0 192.6h1M67.3 205.0h1M121.9 138.6h1M136.7 124.8h1M143.7 138.9h1M135.3 126.5h1M83.1 196.3h1M132.8 128.4h1M91.2 173.1h1M122.9 158.9h1M153.7 106.7h1M109.6 150.0h1M134.7 145.7h1M89.9 192.0h1M101.3 181.1h1M102.3 159.9h1M176.2 103.0h1M124.6 159.7h1M124.5 137.6h1M149.4 107.8h1M209.3 68.7h1M168.8 111.4h1M156.4 128.0h1M161.6 99.7h1M157.7 124.0h1M205.6 68.0h1M98.8 180.2h1M147.1 138.6h1M158.1 103.8h1M162.2 118.1h1M166.5 112.8h1M86.2 190.0h1M175.6 84.0h1M145.6 138.9h1M96.0 184.5h1M184.4 76.0h1M181.0 77.6h1M165.9 90.1h1M118.2 140.2h1M139.4 120.1h1M215.8 56.8h1M210.0 57.4h1M131.3 125.7h1M154.9 127.9h1M195.3 77.5h1M154.8 106.6h1M203.6 62.4h1M150.2 131.4h1M127.9 154.5h1M122.4 158.1h1M109.0 153.7h1M93.9 169.7h1M106.0 175.4h1M137.5 124.6h1M174.6 86.6h1M168.8 93.0h1M184.8 91.7h1M141.7 116.9h1M107.1 174.9h1M178.1 84.4h1M123.4 162.4h1M57.8 210.7h1M119.6 166.8h1M152.6 128.0h1M168.5 91.0h1M149.1 134.4h1M188.0 87.4h1M155.9 125.8h1M193.1 70.1h1M103.8 180.8h1M105.5 180.0h1M77.0 200.5h1M217.3 50.8h1M181.7 76.9h1M190.5 85.1h1M95.8 164.6h1M182.0 78.4h1M94.0 185.0h1M124.3 136.0h1M76.6 198.7h1M180.2 81.7h1M182.4 94.7h1M159.2 121.9h1M201.4 57.6h1M113.0 170.5h1M182.1 77.6h1M211.4 53.0h1M179.2 98.4h1M128.9 130.9h1M107.9 172.8h1M224.1 50.5h1M111.9 170.1h1M102.7 161.0h1M116.7 164.1h1M216.8 48.7h1M111.2 169.6h1M194.0 81.7h1M177.9 100.8h1M182.5 98.3h1M150.4 133.5h1M107.1 172.8h1M94.6 168.2h1M149.4 110.5h1M180.5 96.8h1M146.0 112.9h1M85.6 179.4h1M203.0 73.7h1M120.4 137.3h1M196.2 76.2h1M118.5 162.3h1M131.4 130.3h1M104.6 181.4h1M156.5 125.3h1M82.9 199.0h1M89.3 189.7h1M90.8 171.3h1M82.1 184.5h1M155.7 123.9h1M188.3 74.8h1M184.7 78.7h1M103.4 157.5h1M183.1 75.1h1M151.1 108.2h1M196.7 78.5h1M117.6 164.0h1M210.7 53.8h1M127.1 132.8h1M119.6 141.4h1M177.4 82.0h1M165.4 117.0h1M178.0 102.8h1M222.3 47.4h1M153.9 129.4h1M70.6 196.1h1M94.6 185.2h1M176.4 100.7h1M203.9 70.9h1M62.1 203.5h1M143.7 118.8h1M76.9 203.7h1M166.6 114.4h1M159.4 126.5h1M148.7 110.1h1M186.3 77.6h1M88.4 177.6h1M138.1 146.1h1M198.1 77.0h1M181.8 75.3h1M179.1 99.1h1M70.1 206.5h1M186.2 90.8h1M207.5 58.7h1M152.4 131.6h1M170.2 91.5h1M67.9 198.3h1M135.8 126.1h1M162.6 116.5h1M151.9 108.8h1M146.2 116.0h1M139.2 121.7h1M151.1 111.3h1M81.8 183.9h1M59.9 210.3h1M96.3 185.5h1M80.3 200.4h1M142.6 119.3h1M91.4 172.1h1M153.0 103.9h1M145.1 115.2h1M162.2 96.2h1M192.5 80.9h1M138.8 122.9h1M136.1 145.7h1M186.2 91.9h1M187.6 71.7h1M106.5 154.8h1M187.3 91.3h1M80.1 185.5h1M152.3 134.0h1M149.1 109.9h1M114.8 142.1h1M127.8 134.8h1M160.1 122.2h1M126.1 135.2h1M144.7 136.5h1M175.4 84.9h1M131.7 150.7h1M140.2 141.5h1M88.2 191.1h1M150.9 111.0h1M144.7 116.0h1M98.4 184.4h1M139.4 141.8h1M170.8 112.8h1M110.0 176.2h1M80.0 197.0h1M69.5 203.7h1M135.2 121.0h1M133.2 150.1h1M217.8 57.4h1M195.5 69.1h1M201.4 75.3h1M169.6 113.4h1M123.0 138.1h1M113.2 147.6h1M129.5 126.9h1M153.4 128.7h1M112.5 169.3h1M179.2 97.8h1M195.3 65.2h1M143.2 115.8h1M198.0 65.5h1M126.0 156.5h1M155.9 128.8h1M187.5 87.2h1M96.2 167.5h1M222.1 46.6h1M159.1 123.4h1M199.1 59.4h1M152.2 105.3h1M122.6 158.9h1M211.1 53.4h1M173.6 84.3h1M147.5 137.3h1M138.0 142.0h1M161.4 99.8h1M191.4 68.8h1M157.0 102.5h1M168.9 88.5h1M131.6 130.3h1M113.1 167.3h1M152.9 128.0h1M173.2 89.1h1M162.2 117.4h1M182.4 93.0h1M120.6 138.5h1M163.0 97.2h1M209.0 66.2h1M119.3 161.6h1M200.4 73.3h1M197.5 76.0h1M180.1 97.2h1M200.8 72.5h1M229.8 42.0h1M111.5 172.0h1M192.2 83.2h1M146.5 136.4h1M77.9 187.8h1M154.3 129.9h1M205.7 58.9h1M138.2 121.7h1M191.4 72.5h1M86.4 189.8h1M88.3 190.0h1M152.8 127.1h1M129.6 151.4h1M194.4 69.5h1M149.8 131.0h1M93.7 170.7h1M135.6 146.1h1M105.7 157.3h1M165.0 95.0h1M158.2 102.4h1M189.2 88.0h1M91.8 187.6h1M134.6 148.6h1M181.8 77.0h1M206.3 58.2h1M87.2 194.6h1M145.1 115.8h1M188.4 70.1h1M156.0 126.4h1M173.8 108.7h1M192.8 64.2h1M167.3 95.0h1M176.6 83.2h1M202.6 57.9h1M71.8 194.7h1M139.7 141.0h1M76.0 190.9h1M156.6 125.3h1M169.2 113.8h1M143.7 136.2h1M109.7 171.1h1M195.0 77.9h1M151.5 105.9h1M159.9 122.3h1M220.4 55.5h1M157.7 123.1h1M183.1 97.4h1M120.1 142.6h1M140.6 121.5h1M114.3 147.3h1M159.2 101.9h1M203.6 61.4h1M124.1 134.8h1M151.4 129.4h1M160.4 123.0h1M181.1 94.6h1M211.4 55.2h1M195.5 79.9h1M178.7 99.4h1M187.0 72.0h1M130.3 151.7h1M66.4 208.3h1M103.3 179.5h1M121.2 160.9h1M148.5 134.0h1M127.2 154.0h1M73.8 192.2h1M67.5 197.4h1M127.5 132.4h1M85.8 176.0h1M200.1 64.3h1M110.7 173.1h1M103.2 177.7h1M97.9 185.7h1M153.8 107.9h1M105.9 174.8h1M178.1 104.7h1M97.2 183.6h1M74.9 192.0h1M137.6 123.3h1M121.7 160.2h1M181.5 98.9h1M153.1 107.7h1M141.6 119.3h1M88.7 193.1h1M118.7 140.7h1M159.8 124.0h1M174.7 85.8h1M180.3 80.9h1M135.8 149.6h1M164.9 97.3h1M102.2 180.2h1M131.4 153.2h1M137.0 143.5h1M65.1 207.0h1M174.2 88.2h1M75.2 199.3h1M106.7 153.0h1M163.4 96.2h1M120.6 160.4h1M196.2 65.4h1M116.7 145.5h1M152.1 134.3h1M215.6 51.8h1M183.8 77.8h1M186.9 75.1h1M82.9 183.3h1M93.0 169.7h1M156.2 102.8h1M149.0 134.7h1M171.8 111.6h1M84.8 193.1h1M95.2 169.0h1M106.4 174.7h1M85.5 194.3h1M181.0 95.1h1M193.4 82.2h1M174.2 104.8h1M132.8 128.8h1M154.9 127.7h1M189.0 73.4h1M122.8 161.2h1M144.0 136.8h1M149.1 111.7h1M135.6 148.4h1M193.0 69.0h1M133.1 127.0h1M75.3 191.3h1M102.9 179.4h1M151.9 130.7h1M89.0 190.7h1M123.5 159.5h1M99.6 185.5h1M95.6 167.9h1M119.3 162.7h1M99.8 181.8h1M185.9 89.0h1M110.3 171.9h1M131.6 126.6h1M98.6 183.1h1M123.8 159.0h1M195.3 78.0h1M183.4 78.6h1M135.4 126.8h1M85.1 181.2h1M133.4 148.1h1M108.5 149.8h1M133.6 147.2h1M153.7 127.2h1M80.2 195.8h1M158.5 124.8h1M120.6 161.6h1M112.1 151.1h1M132.0 127.9h1M197.2 62.3h1M135.7 148.1h1M155.1 124.9h1M159.7 99.0h1M230.7 41.6h1M166.3 112.9h1M120.6 164.2h1M182.7 98.0h1M111.3 148.6h1M77.9 199.5h1M56.7 211.0h1M97.2 166.2h1M106.5 156.2h1M197.0 66.4h1M87.0 178.2h1M111.5 173.3h1M123.6 136.3h1M76.0 199.2h1M113.9 148.1h1M169.3 114.0h1M155.6 106.3h1M138.7 122.9h1M127.2 155.3h1M209.5 52.6h1M159.5 99.1h1M179.6 82.3h1M74.7 200.2h1M124.3 136.2h1M129.5 130.9h1M120.5 159.8h1M63.9 202.0h1M138.9 145.5h1M78.5 200.0h1M97.3 167.4h1M226.2 46.2h1M114.6 165.4h1M169.6 110.5h1M163.5 115.6h1M168.9 89.7h1M108.9 150.6h1M135.6 124.7h1M153.0 107.3h1M177.5 84.2h1M157.5 123.7h1M135.3 147.1h1M176.6 101.2h1M142.5 140.4h1M64.6 198.6h1M137.8 145.6h1M128.1 155.7h1M129.5 150.5h1M72.3 202.4h1M104.6 153.2h1M177.8 101.7h1M96.1 166.1h1M142.2 140.6h1M149.0 137.4h1M145.7 114.6h1M201.8 73.8h1M103.2 182.0h1M137.0 144.0h1M121.6 159.8h1M198.5 78.9h1M98.1 166.9h1M191.7 84.0h1M119.5 139.6h1M182.6 80.3h1M138.9 123.2h1M118.3 166.2h1M110.9 173.4h1M141.1 120.5h1M148.5 110.5h1M192.8 80.4h1M134.5 148.1h1M107.0 153.2h1M102.0 156.0h1M121.1 140.3h1M84.3 180.5h1M95.6 186.6h1M128.2 152.9h1M113.4 169.1h1M126.8 132.6h1M129.1 153.2h1M75.8 200.9h1M177.9 100.2h1M95.1 169.3h1M154.8 126.7h1M144.8 117.2h1M110.2 149.6h1M147.5 138.9h1M183.3 93.2h1M107.4 173.3h1M104.2 159.0h1M88.5 188.9h1M150.5 108.1h1M185.2 90.6h1M111.7 173.1h1M158.7 102.6h1M116.6 146.4h1M183.7 75.2h1M222.0 47.6h1M136.9 121.9h1M101.2 163.2h1M109.2 149.9h1M177.9 100.6h1M82.1 184.8h1M72.1 203.5h1M108.6 173.7h1M170.3 91.1h1M90.9 189.5h1M139.5 141.8h1M233.9 36.5h1M104.9 176.1h1M57.3 210.2h1M178.6 83.3h1M135.6 126.7h1M190.4 84.7h1M75.1 200.0h1M169.6 89.9h1M68.0 205.8h1M105.6 156.3h1M190.3 72.4h1M213.6 62.5h1M109.7 152.3h1M132.1 127.3h1M134.3 146.9h1M229.8 42.7h1M237.5 33.7h1M81.2 180.5h1M150.0 132.5h1M153.9 129.6h1M140.9 141.1h1M174.7 106.8h1M99.8 183.7h1M85.9 181.0h1M83.7 194.7h1M88.1 177.0h1M76.2 191.3h1M80.1 195.5h1M153.2 127.5h1M83.0 182.3h1M117.2 145.3h1M82.2 195.7h1M190.2 85.5h1M157.1 101.9h1M203.6 72.4h1M116.9 145.6h1M106.8 153.6h1M168.2 90.4h1M63.8 200.1h1M94.9 167.0h1M93.3 171.1h1M131.5 149.5h1M125.5 161.5h1M133.2 124.7h1M159.9 99.3h1M194.1 69.3h1M100.7 158.4h1M157.2 98.5h1M64.2 208.6h1M196.1 82.9h1M162.5 99.3h1M116.5 169.3h1M125.9 133.9h1M67.4 205.1h1M107.4 152.9h1M90.6 192.5h1M107.6 176.6h1M112.6 146.2h1M173.3 86.1h1M172.5 109.2h1M91.8 173.3h1M138.8 117.8h1M122.9 162.6h1M170.8 90.4h1M82.0 197.5h1M99.1 181.0h1M104.0 177.7h1M96.9 181.1h1M175.4 82.5h1M165.0 114.6h1M76.8 200.5h1M105.5 157.2h1M92.5 185.3h1M69.9 196.3h1M184.2 91.0h1M63.5 202.2h1M148.0 134.2h1M81.7 183.3h1M144.7 114.9h1M150.3 130.0h1M100.9 160.7h1M139.3 145.8h1M130.5 125.3h1M133.8 147.1h1M112.3 149.3h1M111.7 147.4h1M167.7 90.1h1M164.2 115.4h1M59.8 210.4h1M106.0 174.9h1M146.0 115.2h1M93.8 186.0h1M160.7 119.2h1M129.4 151.1h1M189.1 71.6h1M153.6 128.2h1M130.6 152.1h1M99.2 182.4h1M213.5 53.2h1M128.5 131.2h1M151.8 106.6h1M120.2 138.1h1M135.9 126.2h1M87.8 190.3h1M62.9 203.1h1M146.5 136.5h1M117.0 143.7h1M79.8 184.2h1M115.1 169.1h1M69.5 202.8h1M125.9 155.1h1M155.4 105.7h1M177.2 103.2h1M153.9 129.8h1M93.6 184.6h1M132.6 129.3h1M132.8 147.3h1M179.4 102.2h1M112.3 168.8h1M85.0 192.2h1M168.7 90.3h1M138.1 145.2h1M109.5 175.5h1M101.7 161.5h1M133.9 123.2h1M97.3 186.5h1M106.4 180.9h1M120.7 137.8h1M122.6 134.8h1M215.5 49.2h1M137.2 123.5h1M179.8 82.4h1M103.2 161.1h1M82.3 183.9h1M163.2 116.9h1M98.9 183.3h1M98.3 161.4h1M84.6 192.2h1M164.2 115.2h1M161.2 119.5h1M171.4 108.3h1M65.3 200.9h1M175.3 106.0h1M141.9 115.7h1M179.2 99.0h1M110.2 146.4h1M120.8 159.1h1M117.5 143.3h1M145.4 134.8h1M226.3 47.0h1M68.4 206.5h1M236.7 34.0h1M200.6 74.8h1M136.0 146.3h1M210.9 61.1h1M86.6 176.9h1M166.9 89.7h1M209.4 65.5h1M86.9 178.8h1M237.0 34.0h1M142.1 115.4h1M117.2 142.7h1M78.1 198.4h1M134.8 146.7h1M181.6 94.7h1M130.2 151.1h1M134.9 126.6h1M81.3 196.1h1M59.1 210.1h1M66.4 205.3h1M96.6 168.5h1M172.6 85.3h1M97.4 165.1h1M121.7 140.6h1M59.3 207.3h1M148.9 133.0h1M164.0 95.8h1M230.1 42.7h1M211.0 55.3h1M174.5 83.2h1M181.2 80.5h1M177.7 84.6h1M174.7 103.9h1M155.5 104.1h1M104.5 175.0h1M146.9 115.2h1M151.9 128.6h1M122.8 139.3h1M192.4 87.4h1M114.1 167.1h1M129.3 132.6h1M201.6 63.8h1M150.1 134.7h1M105.0 156.1h1M87.8 190.1h1M126.4 155.1h1M119.6 142.2h1M142.9 140.9h1M67.9 197.1h1M98.3 164.8h1M98.1 180.5h1M141.6 119.3h1M77.8 186.7h1M93.9 189.1h1M171.5 87.2h1M174.9 83.7h1M155.8 103.4h1M76.1 203.6h1M91.5 192.7h1M74.9 201.1h1M114.1 170.4h1M103.7 176.4h1M201.1 61.0h1M107.7 174.7h1M90.7 187.8h1M84.1 196.4h1M180.8 79.4h1M81.7 199.4h1M115.9 166.5h1M173.2 107.2h1M158.3 122.2h1M96.4 182.1h1M207.9 57.8h1M99.9 164.0h1M120.4 139.5h1M143.6 137.8h1M77.6 185.6h1M163.7 116.7h1M134.0 149.0h1M91.1 169.8h1M151.4 131.9h1M157.7 102.0h1M120.3 161.6h1M109.5 152.8h1M153.4 107.7h1M122.7 134.7h1M175.6 86.4h1M145.8 113.9h1M78.5 188.6h1M109.9 171.0h1M122.1 136.3h1M135.9 125.5h1M117.3 140.2h1M122.2 158.2h1M114.3 168.0h1M85.3 194.2h1M73.7 200.4h1M128.3 152.5h1M116.1 168.0h1M129.2 151.6h1M118.3 144.4h1M190.4 70.4h1M91.6 168.5h1M205.5 69.1h1M108.7 151.3h1M184.9 90.2h1M154.0 103.0h1M149.8 132.4h1M133.3 122.6h1M213.0 59.3h1M111.0 170.9h1M151.3 106.9h1M196.8 76.4h1M214.9 48.8h1M157.2 122.7h1M147.5 135.7h1M93.3 171.5h1M133.6 146.9h1M129.3 154.6h1M75.4 201.4h1M215.2 53.0h1M216.0 51.8h1M140.7 142.8h1M101.9 180.4h1M66.3 199.7h1M153.9 107.2h1M160.4 126.0h1M142.4 117.2h1M188.1 72.3h1M69.1 206.3h1M183.2 79.9h1M136.9 121.1h1M115.5 167.1h1M73.2 190.8h1M97.8 182.4h1M115.5 147.4h1M237.8 33.6h1M110.1 152.8h1M116.5 143.8h1M186.1 93.9h1M191.6 69.6h1M93.3 188.8h1M169.5 92.1h1M141.8 116.0h1M129.6 151.4h1M175.1 106.4h1M86.0 177.6h1M192.5 69.1h1M79.4 182.6h1M101.2 162.0h1M156.6 124.1h1M199.7 79.5h1M186.9 75.6h1M152.1 109.7h1M151.9 109.8h1M187.6 88.0h1M171.1 90.6h1M176.5 104.4h1M82.5 193.5h1M221.9 49.4h1M115.2 147.3h1M82.7 194.3h1M105.1 151.1h1M181.1 98.8h1M156.1 102.5h1M126.3 154.5h1M139.3 141.2h1M82.0 181.5h1M108.4 154.3h1M131.5 128.7h1M188.7 85.1h1M161.9 99.8h1M163.1 121.1h1M192.1 80.7h1M90.9 191.6h1M112.0 172.1h1M173.9 87.1h1M97.4 181.7h1M180.9 80.4h1M63.6 201.4h1M141.4 116.8h1M178.4 102.5h1M214.6 57.2h1M141.2 139.9h1M152.6 106.9h1M174.7 105.0h1M91.3 168.2h1M177.7 99.6h1M182.7 95.9h1M91.4 172.0h1M126.3 131.6h1M102.8 158.6h1M149.6 132.5h1M139.3 118.8h1M129.7 150.7h1M64.9 198.3h1M86.7 190.5h1M85.2 193.6h1M146.6 134.0h1M88.0 176.0h1M65.1 198.6h1M208.2 59.2h1M199.7 63.3h1M103.4 157.3h1M172.5 108.5h1M132.9 148.2h1M132.0 153.2h1M189.8 73.2h1M182.4 77.8h1M177.0 101.0h1M160.2 120.6h1M152.1 131.8h1M96.8 181.8h1M147.8 114.2h1M172.8 109.6h1M102.8 155.1h1M142.6 137.8h1M81.0 195.9h1M100.6 163.6h1M155.5 103.1h1M172.3 109.4h1M89.6 175.5h1M187.8 73.6h1M66.7 206.0h1M66.4 200.4h1M125.0 133.5h1M132.8 128.9h1M167.5 91.4h1M110.7 173.6h1M107.3 149.6h1M190.5 71.1h1M130.1 151.5h1M191.9 84.1h1M217.3 57.5h1M120.8 159.0h1M91.5 171.0h1M112.9 171.2h1M109.7 170.9h1M75.7 191.2h1M215.4 56.6h1M110.4 151.8h1M137.7 119.6h1M143.8 137.1h1M114.6 167.9h1M164.1 95.9h1M143.0 137.5h1M59.8 205.6h1M221.2 44.1h1M171.2 87.5h1M118.0 139.2h1M169.5 89.8h1M84.8 181.8h1M78.4 199.2h1M164.0 97.8h1M96.5 186.7h1M190.4 69.6h1M143.1 140.9h1M184.5 78.1h1M178.2 100.6h1M135.9 126.4h1M166.1 92.4h1M123.6 138.1h1M159.4 122.3h1M151.1 130.8h1M84.0 182.6h1M220.1 48.6h1M102.3 182.8h1M119.9 160.8h1M113.6 143.9h1M64.5 201.2h1M102.0 178.6h1M187.6 91.3h1M200.2 65.3h1M96.9 166.0h1M174.5 106.3h1M140.0 143.2h1M109.5 171.8h1M111.1 146.7h1M84.9 194.2h1M141.2 121.0h1M130.1 155.0h1M97.1 183.6h1M206.9 60.2h1M88.1 191.5h1M104.1 179.7h1M163.9 115.7h1M183.0 79.3h1M157.9 122.4h1M178.2 103.2h1M218.5 49.0h1M116.4 145.5h1M107.9 154.1h1M130.4 127.4h1M190.2 72.8h1M170.4 109.8h1M91.0 174.6h1M103.8 178.9h1M162.5 99.1h1M134.1 127.1h1M133.8 128.0h1M142.5 119.1h1M162.5 97.4h1M144.0 136.2h1M120.8 136.6h1M126.4 156.8h1M97.0 167.5h1M184.3 96.6h1M156.2 126.4h1M117.7 166.8h1M114.6 170.2h1M111.7 149.6h1M116.2 164.0h1M151.8 128.9h1M137.7 124.8h1M184.6 91.9h1M131.7 148.4h1M173.5 84.7h1M217.5 54.4h1M148.6 133.7h1M130.5 128.7h1M132.2 130.6h1M91.2 174.3h1M161.3 121.3h1M126.6 133.1h1M150.3 129.7h1M203.5 69.3h1M237.1 34.6h1M178.7 97.7h1M137.0 145.5h1M62.2 208.0h1M92.2 186.2h1M193.4 80.5h1M175.8 86.9h1M125.8 158.1h1M140.5 118.7h1M145.2 114.5h1M71.2 205.0h1M198.7 76.1h1M151.8 108.9h1M127.4 153.2h1M102.2 161.1h1M160.8 124.3h1M96.8 167.2h1M214.9 52.5h1M197.7 63.8h1M97.6 164.6h1M72.5 191.9h1M160.3 100.5h1M122.4 159.6h1M119.2 162.1h1M116.1 142.6h1M81.0 182.6h1M87.7 192.3h1M136.3 146.4h1M98.9 179.4h1M77.5 202.1h1M72.3 189.8h1M99.3 181.1h1M84.7 175.8h1M125.8 154.4h1M117.2 144.9h1M155.1 130.1h1M182.7 95.7h1M140.6 145.7h1M150.0 109.8h1M95.2 165.3h1M110.3 172.2h1M232.9 39.0h1M80.0 187.5h1M186.1 88.8h1M149.5 109.1h1M123.1 160.9h1M153.6 107.6h1M207.8 64.9h1M147.2 112.6h1M112.0 170.9h1M79.2 183.8h1M147.0 135.8h1M110.8 172.0h1M137.9 124.0h1M116.4 145.4h1M143.6 118.2h1M71.5 202.2h1M138.4 120.8h1M142.3 138.5h1M130.8 126.1h1M116.9 169.0h1M122.5 163.0h1M147.1 111.0h1M182.3 95.1h1M76.0 198.7h1M132.5 149.0h1M186.9 73.9h1M60.9 209.9h1M84.3 193.2h1M172.0 86.1h1M169.7 110.6h1M156.1 102.6h1M139.2 121.0h1M107.4 153.1h1M165.6 118.0h1M86.6 177.8h1M115.7 167.9h1M112.5 147.1h1M64.1 207.3h1M134.6 146.6h1M202.9 74.7h1M151.1 135.6h1M201.8 75.7h1M194.0 82.2h1M143.1 115.5h1M199.8 64.9h1M104.3 158.2h1M211.4 55.9h1M120.7 140.5h1M204.5 59.9h1M213.4 60.6h1M127.9 154.8h1M108.0 172.5h1M87.2 195.9h1M137.4 124.5h1M124.3 158.6h1M189.2 68.6h1M67.9 198.2h1M163.8 117.5h1M179.2 81.0h1M142.6 119.6h1M135.4 126.0h1M126.5 157.3h1M150.1 130.3h1M107.2 173.7h1M173.5 85.2h1M81.9 195.8h1M208.5 63.6h1M89.5 188.2h1M97.3 164.9h1M107.5 154.8h1M131.1 128.6h1M155.6 103.3h1M236.5 33.8h1M78.0 197.9h1M154.9 128.6h1M162.1 95.6h1M101.2 157.8h1M225.3 48.3h1M213.6 54.5h1M161.2 100.7h1M99.5 180.5h1M146.5 135.7h1M169.8 92.1h1M143.0 118.0h1M110.3 171.5h1M236.7 33.9h1M131.6 128.8h1M102.5 160.4h1M131.3 149.9h1M164.6 116.3h1M185.8 72.1h1M157.5 101.5h1M139.6 144.1h1M103.0 161.3h1M70.0 203.6h1M156.1 102.8h1M161.4 119.0h1M166.1 113.3h1M163.6 94.8h1M155.0 125.8h1M88.3 190.2h1M152.3 109.4h1M136.8 146.0h1M105.0 158.4h1M171.0 108.9h1M160.9 118.5h1M77.9 201.1h1M149.0 133.8h1M100.0 162.1h1M149.8 134.2h1M193.5 79.8h1M159.0 121.1h1M68.0 196.0h1M159.1 123.3h1M174.9 105.6h1M66.8 198.7h1M169.1 112.0h1M115.6 170.8h1M76.7 198.7h1M82.2 193.6h1M174.3 88.3h1M226.6 45.7h1M132.4 127.9h1M99.6 163.0h1M155.7 128.8h1M132.8 129.4h1M145.5 134.9h1M123.1 138.5h1M149.5 134.3h1M232.5 37.8h1M205.9 57.2h1M162.9 117.5h1M81.3 181.9h1M123.3 163.3h1M122.4 139.1h1M71.8 192.4h1M130.1 129.1h1M122.0 138.1h1M184.9 93.8h1M181.4 80.3h1M139.0 142.0h1M168.8 114.3h1M224.4 49.7h1M68.6 195.6h1M175.7 86.2h1M145.2 138.2h1M201.5 76.4h1M133.6 124.8h1M184.4 75.2h1M131.9 149.0h1M95.4 166.0h1M168.7 111.2h1M117.1 165.6h1M167.5 113.1h1M235.5 35.2h1M112.5 170.2h1M177.2 85.7h1M175.0 86.3h1M115.7 165.9h1M121.1 160.5h1M123.5 135.6h1M105.4 176.7h1M120.1 165.4h1M67.4 207.1h1M120.0 165.3h1M128.2 130.7h1M154.5 107.5h1M141.0 144.3h1M145.4 116.1h1M182.2 80.8h1M179.1 97.5h1M179.5 82.1h1M235.1 35.2h1M94.4 167.4h1M159.5 124.0h1M132.3 149.2h1M62.8 208.3h1M172.3 108.0h1M133.8 127.0h1M78.6 201.5h1M201.1 74.0h1M188.0 69.6h1M170.4 108.0h1M180.2 96.3h1M98.1 185.3h1M98.4 180.3h1M107.7 175.4h1M132.5 130.0h1M62.3 201.5h1M119.4 142.3h1M175.4 105.4h1M93.5 189.3h1M118.4 164.0h1M198.0 64.8h1M73.9 202.7h1M126.4 133.5h1M120.1 141.7h1M175.4 104.1h1M118.8 142.2h1M77.9 189.5h1M105.1 181.2h1M225.3 42.2h1M124.8 156.7h1M173.8 108.4h1M107.8 172.4h1M117.2 163.8h1M156.1 103.8h1M180.5 79.1h1M134.7 123.9h1M92.4 173.1h1M152.3 130.3h1M111.3 149.7h1M65.0 208.6h1M98.3 164.0h1M159.7 120.9h1M171.5 109.3h1M89.5 190.7h1M107.9 174.7h1M97.2 162.0h1M160.7 120.1h1M76.8 200.0h1M105.0 180.6h1M86.4 175.0h1M126.2 131.4h1M183.3 93.2h1M140.9 143.2h1M87.7 190.4h1M146.5 138.5h1M217.9 46.4h1M216.5 55.1h1M140.3 141.5h1M145.6 137.1h1M147.3 110.0h1M194.7 79.0h1M173.6 108.3h1M85.6 178.6h1M106.0 155.1h1M91.0 170.5h1M61.1 208.9h1M176.7 84.4h1M78.2 187.3h1M61.3 209.1h1M177.5 103.4h1M76.2 199.9h1M111.4 151.7h1M80.5 200.3h1M105.5 153.8h1M196.0 63.1h1M127.1 133.6h1M146.7 115.0h1M103.0 156.9h1M98.4 165.0h1M152.1 132.1h1M210.1 62.3h1M138.0 144.0h1M184.9 77.3h1M142.3 138.3h1M80.8 194.7h1M107.9 152.5h1M112.5 146.9h1M124.3 159.5h1M159.7 121.5h1M167.3 113.8h1M87.7 193.3h1M87.3 190.4h1M122.3 158.4h1M128.8 152.7h1M157.1 124.5h1M84.1 177.4h1M186.7 87.6h1M91.9 170.4h1M117.3 167.5h1M177.5 100.8h1M82.9 179.6h1M79.3 199.0h1M92.5 170.9h1M147.3 135.7h1M185.2 91.9h1M106.8 174.6h1M156.9 124.8h1M124.5 160.9h1M192.4 67.6h1M112.0 174.6h1M134.5 123.4h1M186.1 89.6h1M178.4 99.4h1M133.4 147.7h1M217.3 49.1h1M171.6 107.9h1M80.8 183.0h1M92.9 166.5h1M161.7 97.7h1M199.7 77.5h1M125.8 135.1h1M144.9 137.0h1M123.8 160.7h1M120.4 141.1h1M115.1 144.7h1M174.8 87.2h1M174.5 86.3h1M161.0 120.3h1M84.7 196.3h1M186.1 75.5h1M75.5 200.7h1M178.1 83.2h1M96.1 183.5h1M165.6 116.3h1M200.1 65.5h1M177.9 100.5h1M94.0 169.3h1M186.6 90.9h1M109.9 177.3h1M156.9 101.2h1M119.0 161.8h1M103.5 178.2h1M92.2 186.4h1M115.5 145.3h1M115.8 144.8h1M132.6 149.4h1M78.7 186.8h1M130.8 149.2h1M99.5 179.9h1M158.4 103.9h1M122.8 163.2h1M82.0 194.6h1M135.0 126.9h1M196.2 80.9h1M78.3 200.7h1M120.2 141.6h1M135.9 123.0h1M193.6 68.4h1M219.5 52.5h1M198.5 74.8h1M184.9 91.4h1M63.5 201.9h1M169.5 89.5h1M199.8 74.9h1M147.2 137.7h1M160.8 97.8h1M88.0 178.5h1M96.3 166.3h1M97.3 166.7h1M118.6 140.5h1M133.5 148.4h1M152.3 105.9h1M98.9 165.3h1M211.6 50.9h1M72.1 201.5h1M113.3 148.2h1M83.9 195.4h1M109.0 149.5h1M176.3 84.2h1M218.9 55.8h1M61.8 210.7h1M104.2 157.1h1M95.8 168.4h1M105.2 177.1h1M110.6 171.7h1M121.4 137.2h1M105.3 155.7h1M188.5 73.2h1M163.7 117.3h1M103.7 181.3h1M115.0 166.5h1M131.2 125.2h1M95.7 166.5h1M104.3 155.9h1M212.1 63.3h1M153.9 127.7h1M136.1 148.5h1M189.5 87.5h1M146.3 136.3h1M157.4 123.5h1M85.2 192.4h1M111.7 149.9h1M153.7 127.4h1M175.5 82.9h1M152.5 130.3h1M91.6 170.3h1M150.7 108.6h1M127.7 133.4h1M107.1 175.3h1M169.6 110.6h1M202.7 63.0h1M128.9 152.8h1M145.8 114.7h1M165.3 92.1h1M148.8 111.3h1M150.6 132.0h1M68.4 196.8h1M117.7 144.0h1M126.9 135.7h1M68.0 198.0h1M87.8 189.6h1M147.0 113.8h1M210.7 55.6h1M99.4 185.1h1M190.2 71.7h1M175.1 84.3h1M86.0 180.6h1M100.8 183.1h1M130.4 131.4h1M79.6 196.7h1M149.3 132.0h1M63.0 208.1h1M78.6 187.0h1M147.5 133.8h1M198.0 67.2h1M86.8 176.3h1M144.7 115.9h1M187.2 75.3h1M125.4 158.8h1M134.9 127.5h1M210.9 62.9h1M125.4 130.3h1M87.8 194.0h1M157.9 98.4h1M109.6 152.9h1M137.4 123.6h1M173.2 87.8h1M97.9 186.3h1M119.8 139.1h1M102.1 159.8h1M180.0 83.0h1M100.6 160.4h1M102.8 180.4h1M161.2 118.3h1M120.3 139.7h1M233.8 38.2h1M173.0 107.6h1M130.4 127.8h1M110.5 172.0h1M89.8 192.1h1M132.5 149.5h1M74.8 199.7h1M128.1 131.1h1M80.1 183.3h1M128.8 151.4h1M198.3 77.7h1M92.7 168.4h1M225.8 43.6h1M165.1 93.6h1M89.7 188.3h1M111.6 169.9h1M201.8 64.6h1M205.8 67.0h1M96.0 168.1h1M70.9 191.9h1M113.9 146.3h1M66.0 206.5h1M129.5 151.9h1M107.7 153.8h1M175.7 86.5h1M107.4 154.6h1M108.6 154.4h1M133.1 148.5h1M175.6 84.6h1M168.2 112.9h1M214.4 58.0h1M202.8 73.2h1M196.8 66.1h1M87.4 193.7h1M132.0 127.6h1M99.0 182.9h1M188.8 75.2h1M171.4 110.1h1M113.6 167.2h1M87.2 174.9h1M58.8 211.1h1M95.3 185.8h1M134.9 146.4h1M136.3 122.6h1M157.2 123.2h1M185.2 94.2h1M181.6 81.6h1M206.6 67.2h1M186.1 76.1h1M140.7 119.3h1M90.5 171.5h1M70.8 207.1h1M129.5 154.4h1M166.5 116.2h1M191.1 83.5h1M223.2 49.0h1M138.9 143.3h1M114.8 166.6h1M123.4 162.2h1M110.2 151.9h1M186.8 71.8h1M179.3 78.5h1M108.4 173.8h1M94.4 183.9h1M182.2 98.1h1M141.6 117.1h1M81.6 183.4h1M96.7 182.8h1M114.9 166.7h1M122.6 157.9h1M156.5 104.5h1M192.8 81.2h1M192.6 81.0h1M134.7 127.0h1M147.9 113.4h1M163.8 96.8h1M110.8 148.6h1M197.6 77.6h1M168.5 110.2h1M155.6 126.1h1M181.4 80.3h1M110.7 149.6h1M151.5 107.6h1M144.3 139.2h1M226.4 45.5h1M108.6 151.4h1M147.1 132.7h1M113.0 148.3h1M110.9 173.1h1M177.4 82.5h1M90.0 175.0h1M76.3 191.1h1M162.9 95.9h1M122.2 159.6h1M161.5 99.6h1M172.2 87.2h1M176.9 106.0h1M156.4 102.9h1M168.2 92.8h1M108.2 151.0h1M112.6 169.1h1M120.2 142.5h1M124.7 159.2h1M84.3 178.5h1M95.1 167.5h1M101.6 159.4h1M106.7 154.3h1M122.0 162.7h1M114.0 147.8h1M199.4 66.1h1M183.5 96.3h1M97.6 182.5h1M172.3 110.2h1M111.3 174.2h1M185.3 90.4h1M71.5 193.5h1M174.9 103.7h1M168.2 113.8h1M88.0 190.5h1M196.2 67.8h1M120.1 162.1h1M83.2 183.4h1M118.7 141.6h1M203.8 75.5h1M88.2 193.5h1M139.8 143.6h1M154.5 107.6h1M146.4 113.9h1M90.5 187.6h1M138.5 148.1h1M172.4 112.1h1M98.6 164.7h1M162.8 118.1h1M57.0 212.0h1M194.5 69.5h1M152.3 133.1h1M116.0 146.5h1M110.8 172.7h1M85.4 175.5h1M170.8 111.1h1M95.9 188.2h1M89.0 172.1h1M76.7 189.1h1M96.9 187.1h1M80.0 197.9h1M96.5 168.1h1M173.1 105.5h1M144.3 138.2h1M175.5 104.7h1M177.1 84.0h1M122.1 139.0h1M167.7 113.8h1M106.1 153.9h1M105.9 154.2h1M121.1 161.3h1M181.2 98.0h1M69.4 196.4h1M135.7 124.7h1M76.3 191.4h1M127.5 135.0h1M206.1 59.8h1M123.4 158.1h1M125.9 130.6h1M185.4 77.3h1M126.9 155.1h1M198.0 81.2h1M163.6 96.8h1M153.6 127.6h1M152.8 128.6h1M163.6 119.0h1M181.8 97.0h1M60.3 210.0h1M154.1 106.6h1M153.4 106.4h1M169.1 111.9h1M147.5 135.1h1M169.9 109.1h1M179.8 97.5h1M151.0 108.1h1M205.5 71.1h1M140.9 140.1h1M185.4 76.5h1M104.8 155.0h1M131.1 151.4h1M147.6 138.4h1M122.7 138.0h1M142.2 138.4h1M96.5 185.5h1M180.0 100.0h1M168.7 111.5h1M129.5 155.7h1M208.0 65.7h1M117.0 163.0h1M177.7 100.9h1M122.2 161.0h1M163.6 116.7h1M113.2 169.4h1M119.6 139.7h1M78.5 185.7h1M189.8 72.9h1M123.2 163.2h1M112.3 172.0h1M211.8 53.5h1M143.9 138.4h1M61.9 203.7h1M120.8 163.5h1M115.9 141.5h1M139.7 122.4h1M89.5 175.3h1M108.4 173.7h1M177.6 101.1h1M158.6 103.0h1M107.3 175.2h1M169.2 115.7h1M103.9 159.5h1M81.0 195.2h1M200.0 65.5h1M101.8 162.1h1M174.7 103.9h1M166.8 91.4h1M89.9 189.8h1M102.1 161.5h1M72.5 194.4h1M94.5 165.9h1M88.9 189.3h1M129.3 153.6h1M200.2 64.4h1M151.0 129.7h1M131.9 128.3h1M161.7 119.8h1M124.9 157.5h1M126.1 155.6h1M180.6 77.0h1M80.7 197.7h1M76.6 202.7h1M184.2 91.3h1M71.5 203.3h1M159.1 120.6h1M185.9 92.3h1M140.7 139.4h1M160.8 98.2h1M97.6 181.1h1M147.7 136.5h1M162.6 98.0h1M148.9 112.2h1M139.0 146.9h1M142.7 139.7h1M160.8 95.2h1M66.2 205.4h1M208.8 63.7h1M127.4 154.3h1M180.9 81.3h1M166.5 114.0h1M110.2 147.7h1M171.8 108.9h1M198.6 78.9h1M145.8 135.7h1M142.3 138.6h1M161.1 99.3h1M110.8 171.9h1M133.6 148.5h1M197.3 76.3h1M147.8 135.7h1M157.5 102.8h1M151.8 130.4h1M113.2 167.5h1M180.5 82.6h1M225.7 47.0h1M162.9 122.4h1M144.5 117.4h1M82.7 181.1h1M153.0 130.1h1M119.6 162.6h1M182.0 97.2h1M193.5 69.5h1M176.2 102.1h1M174.8 103.2h1M78.7 201.6h1M180.8 98.8h1M129.3 127.6h1M206.1 56.6h1M208.5 56.7h1M71.8 204.2h1M228.2 42.5h1M185.7 75.2h1M143.4 139.9h1M153.9 126.1h1M136.9 144.0h1M140.3 115.9h1M192.5 67.0h1M126.0 136.1h1M125.8 155.9h1M72.0 192.6h1M181.0 97.1h1M115.1 168.5h1M114.3 145.3h1M90.3 190.5h1M62.3 209.7h1M101.5 157.9h1M104.6 179.6h1M155.3 102.7h1M189.2 85.3h1M148.3 132.2h1M205.7 71.3h1M128.7 152.3h1M146.4 113.0h1M188.3 86.6h1M148.5 112.0h1M144.0 115.6h1M71.3 202.2h1M74.3 191.9h1M213.9 52.6h1M150.9 130.0h1M115.5 171.2h1M83.3 195.0h1M232.9 39.7h1M154.1 104.7h1M176.8 102.7h1M201.3 71.7h1M62.0 210.0h1M105.1 174.9h1M184.0 97.4h1M104.8 175.1h1M209.8 55.6h1M108.3 154.0h1M111.0 149.5h1M192.1 68.1h1M131.0 131.8h1M146.0 115.0h1M131.4 129.4h1M80.3 183.0h1M118.8 141.5h1M125.5 159.2h1M122.5 140.2h1M130.8 152.2h1M94.1 170.5h1M60.9 208.8h1M161.4 120.0h1M173.6 106.0h1M130.2 129.7h1M102.5 157.4h1M129.6 150.8h1M185.0 91.6h1M139.8 141.8h1M169.5 111.0h1M144.4 136.2h1M92.5 186.9h1M234.8 36.4h1M126.0 133.2h1M171.3 89.7h1M189.9 71.2h1M92.6 169.4h1M68.1 196.5h1M138.4 123.1h1M233.0 39.1h1M128.4 155.0h1M137.5 143.0h1M96.7 163.0h1M214.7 58.8h1M235.4 35.2h1M189.2 70.2h1M165.5 95.7h1M154.1 130.8h1M118.5 163.8h1M114.8 170.4h1M120.8 137.3h1M178.2 100.2h1M179.6 81.8h1M200.5 61.3h1M86.8 177.2h1M87.4 190.5h1M75.8 198.9h1M86.4 174.7h1M183.7 78.3h1M114.5 145.2h1M71.8 201.7h1M98.1 164.1h1M116.4 164.6h1M110.2 174.9h1M167.6 112.9h1M128.3 133.1h1M141.1 140.2h1M108.7 151.2h1M94.7 169.9h1M120.8 163.1h1M96.1 185.8h1M98.7 165.4h1M148.2 112.2h1M103.2 178.7h1M78.8 200.6h1M164.5 115.8h1M143.6 118.4h1M236.5 33.3h1M148.0 136.2h1M181.2 99.3h1M172.8 107.1h1M163.7 115.5h1M132.1 128.0h1M161.4 100.0h1M112.6 169.0h1M118.9 141.5h1M213.0 59.9h1M57.9 208.9h1M147.1 109.8h1M132.9 129.7h1M115.7 164.6h1M157.8 123.0h1M155.0 105.6h1M167.6 93.5h1M167.9 88.8h1M76.8 189.3h1M97.6 182.8h1M150.0 111.3h1M210.2 64.1h1M78.7 200.6h1M69.6 206.2h1M135.1 125.6h1M193.8 65.9h1M102.0 177.4h1M177.0 100.5h1M78.8 197.1h1M148.1 114.2h1M178.5 84.7h1M115.0 145.4h1M74.2 199.7h1M152.7 107.8h1M89.2 189.6h1M144.0 117.7h1M217.6 55.3h1M149.7 111.7h1M70.7 203.5h1M117.7 145.3h1M111.1 147.8h1M135.0 145.6h1M163.8 96.8h1M110.7 151.1h1M74.1 203.2h1M139.0 121.7h1M127.1 154.5h1M139.3 143.3h1M180.2 99.3h1M138.6 144.0h1M136.1 120.3h1M80.5 201.0h1M143.5 136.4h1M144.6 138.4h1M156.8 104.1h1M184.2 91.4h1M180.6 82.4h1M58.6 210.3h1M132.5 129.2h1M155.9 100.8h1M88.9 188.7h1M119.3 161.6h1M145.0 136.1h1M145.8 139.1h1M112.3 145.8h1M163.6 119.2h1M83.3 193.9h1M201.1 78.2h1M184.8 77.4h1M144.9 137.8h1M128.8 154.4h1M235.9 35.6h1M164.7 95.3h1M115.8 143.2h1M94.0 171.2h1M158.9 100.0h1M114.2 144.1h1M199.2 76.2h1M161.7 119.0h1M182.7 99.1h1M77.8 186.3h1M117.5 143.2h1M93.2 188.8h1M141.6 118.5h1M188.0 73.0h1M119.3 143.2h1M184.0 95.0h1M94.0 184.9h1M91.8 185.7h1M82.2 194.8h1M82.6 180.9h1M154.7 127.9h1M102.9 161.3h1M145.8 137.1h1M62.6 208.6h1M194.8 80.5h1M72.0 205.4h1M74.9 201.1h1M158.6 102.9h1M93.3 172.4h1M148.2 133.7h1M174.4 87.5h1M218.5 55.3h1M80.3 182.0h1M191.6 71.2h1M153.3 105.0h1M108.1 174.0h1M145.5 111.5h1M180.9 95.3h1M170.9 110.9h1M109.4 171.9h1M168.6 112.4h1M215.8 57.9h1M160.7 100.0h1M126.5 136.2h1M168.4 91.5h1M125.6 135.7h1M177.2 81.2h1M81.4 196.2h1M107.5 155.0h1M134.2 146.5h1M230.1 43.0h1M162.8 118.7h1M158.8 127.5h1M151.5 128.5h1M180.6 95.7h1M120.1 140.8h1M170.5 109.6h1M112.3 172.7h1M230.2 39.6h1M210.5 57.2h1M176.7 105.0h1M152.4 130.3h1M203.2 57.1h1M74.2 190.1h1M102.5 179.0h1M176.7 80.7h1M152.5 128.0h1M84.3 182.3h1M63.1 209.1h1M186.7 89.6h1M167.0 114.5h1M153.9 106.1h1M114.6 166.7h1M200.0 62.8h1M182.9 76.2h1M199.6 74.9h1M123.1 136.2h1M83.4 196.4h1M72.4 193.6h1M177.4 99.8h1M141.0 140.3h1M165.6 115.0h1M168.8 90.3h1M163.2 96.1h1M122.4 162.9h1M128.8 152.6h1M146.9 115.2h1M120.6 140.8h1M108.4 153.7h1M166.1 116.9h1M142.7 118.8h1M174.1 104.6h1M176.3 103.2h1M82.0 181.0h1M97.3 165.0h1M80.0 187.0h1M157.1 103.5h1M127.8 134.9h1M70.6 195.8h1M93.4 188.3h1M98.5 165.3h1M82.2 181.1h1M81.9 194.6h1M196.3 79.3h1M127.1 153.9h1M76.4 190.0h1M106.4 179.9h1M140.0 117.6h1M117.1 166.1h1M168.4 93.0h1M98.6 182.3h1M132.7 129.2h1M175.2 104.7h1M132.5 130.1h1M223.9 48.0h1M167.7 92.0h1M100.1 159.3h1M195.0 66.4h1M96.2 184.1h1M155.8 103.1h1M197.6 66.0h1M192.7 71.2h1M153.8 128.2h1M107.4 153.9h1M114.8 144.8h1M75.3 203.4h1M66.2 200.2h1M113.5 148.7h1M223.3 48.5h1M173.6 87.2h1M78.3 200.6h1M83.0 196.6h1M146.1 115.0h1M125.5 135.9h1M76.3 201.1h1M229.0 42.4h1M77.7 188.6h1M172.5 89.5h1M166.7 93.3h1M107.2 175.3h1M97.2 166.9h1M121.2 136.4h1M171.1 90.6h1M108.1 175.9h1M67.7 197.6h1M131.8 149.1h1M91.5 173.9h1M74.8 187.6h1M75.7 201.5h1M103.9 176.9h1M107.1 175.0h1M175.5 105.5h1M81.6 185.9h1M96.3 182.6h1M220.1 53.0h1M79.3 186.4h1M117.4 143.1h1M182.9 79.0h1M195.3 78.8h1M186.1 75.1h1M190.1 72.8h1M117.5 142.4h1M125.9 136.6h1M112.3 169.3h1M171.0 111.8h1M143.5 114.6h1M106.5 151.7h1M155.4 127.2h1M206.0 67.2h1M113.2 167.6h1M165.9 115.6h1M124.5 133.6h1M141.4 141.4h1M176.7 103.7h1M113.3 146.1h1M63.9 206.7h1M171.4 88.7h1M91.6 171.1h1M128.5 156.5h1M74.3 189.3h1M101.5 177.9h1M86.3 177.9h1M111.7 173.7h1M117.8 142.4h1M122.4 163.9h1M193.9 69.4h1M137.5 147.7h1M93.8 186.7h1M103.8 178.5h1M224.8 42.9h1M184.7 92.8h1M112.4 167.7h1M66.2 206.7h1M75.3 199.5h1M120.4 139.0h1M147.2 115.1h1M169.8 92.0h1M116.8 139.2h1M192.4 67.9h1M168.2 113.9h1M175.8 103.8h1M110.9 169.3h1M132.8 153.3h1M88.1 178.2h1M98.5 162.2h1M61.1 208.2h1M200.8 73.7h1M85.7 174.6h1M99.1 160.7h1M67.2 195.6h1M161.0 122.7h1M177.1 101.5h1M131.3 150.6h1M115.0 145.1h1M217.0 54.6h1M66.4 199.4h1M106.3 154.8h1M85.9 176.8h1M73.6 193.4h1M130.3 131.3h1M155.8 125.7h1M115.4 147.3h1M150.0 108.5h1M63.7 202.4h1M131.0 151.3h1M151.4 130.3h1M217.8 47.3h1M117.4 166.8h1M83.4 179.4h1M177.8 82.2h1M108.1 173.9h1M137.3 143.9h1M95.1 184.6h1M94.7 186.4h1M67.7 206.1h1M129.3 127.5h1M161.4 118.4h1M102.6 160.2h1M147.9 132.7h1M113.3 168.9h1M96.6 182.9h1M150.0 108.3h1M132.9 149.8h1M91.0 187.0h1M156.3 103.2h1M99.2 165.3h1M114.5 144.4h1M131.1 151.4h1M168.1 114.7h1M145.6 113.4h1M122.0 139.8h1M193.7 67.4h1M71.3 195.7h1M121.5 138.0h1M68.5 197.7h1M179.4 101.2h1M127.4 131.7h1M63.5 208.5h1M120.9 163.3h1M163.7 97.9h1M166.1 93.3h1M151.0 130.2h1M115.4 146.2h1M92.0 169.7h1M118.3 165.9h1M177.4 85.4h1M109.0 152.1h1M140.0 121.2h1M134.8 127.6h1M161.0 122.5h1M116.4 167.7h1M215.8 58.8h1M154.6 107.0h1M124.7 160.6h1M68.6 204.7h1M198.0 67.8h1M222.0 45.5h1M206.6 56.8h1M167.5 114.0h1M69.2 204.6h1M106.1 177.5h1M127.9 132.6h1M139.1 144.2h1M117.4 163.8h1M175.9 105.0h1M71.2 193.2h1M111.0 170.3h1M62.9 201.0h1M105.3 154.6h1M184.4 96.7h1M172.6 109.3h1M107.2 176.1h1M154.3 128.7h1M191.6 70.3h1M71.1 205.4h1M111.3 148.6h1M184.5 78.5h1M132.9 129.1h1M187.6 86.9h1M156.6 103.7h1M126.2 154.7h1M166.5 90.8h1M143.0 143.3h1M192.1 81.1h1M94.9 168.7h1M192.5 71.2h1M70.8 204.3h1M183.2 77.9h1M117.8 166.0h1M118.6 142.3h1M74.1 192.4h1M130.1 132.7h1M138.1 143.4h1M188.8 86.0h1M78.2 187.7h1M75.8 200.5h1M188.3 88.1h1M168.1 93.9h1M108.5 172.8h1M80.2 195.9h1M166.8 114.2h1M137.2 124.2h1M82.6 183.5h1M150.1 111.2h1M119.3 162.8h1M213.0 59.4h1M149.6 109.8h1M78.6 197.6h1M199.3 66.0h1M108.2 154.2h1M130.8 154.6h1M140.1 122.2h1M138.1 124.0h1M141.8 117.0h1M112.2 147.6h1M156.0 124.4h1M104.4 176.9h1M93.6 170.1h1M126.7 135.7h1M139.6 120.3h1M181.8 77.8h1M81.9 182.9h1M135.3 126.9h1M148.7 134.1h1M155.3 106.9h1M188.7 87.7h1M123.6 137.4h1M83.1 180.7h1M107.3 155.5h1M199.7 64.8h1M182.7 98.8h1M182.1 78.7h1M102.4 157.6h1M146.8 135.7h1M172.1 108.9h1M126.5 132.5h1M116.7 165.1h1M120.7 161.1h1M117.3 140.6h1M100.6 161.0h1M172.9 86.8h1M59.5 210.6h1M131.6 126.5h1M155.4 124.6h1M130.9 130.2h1M124.3 132.2h1M106.3 155.1h1M108.5 176.2h1M64.8 199.4h1M150.3 109.5h1M138.1 117.7h1M121.5 159.1h1M100.4 161.4h1M210.6 65.3h1M134.3 125.0h1M120.1 137.0h1M83.9 194.3h1M175.2 104.6h1M112.8 168.0h1M128.1 153.0h1M197.0 67.6h1M113.1 167.3h1M143.4 117.3h1M170.9 109.7h1M79.8 184.7h1M166.1 114.1h1M141.3 116.3h1M154.6 128.2h1M163.2 95.5h1M143.6 115.1h1M101.0 161.6h1M132.3 151.4h1M162.5 123.0h1M171.7 110.6h1M126.1 154.4h1M125.5 159.1h1M184.9 77.1h1M138.2 124.1h1M163.3 98.4h1M67.1 205.1h1M96.0 185.1h1M107.5 151.2h1M158.3 101.3h1M147.5 114.0h1M86.8 194.1h1M98.2 164.0h1M174.9 82.3h1M169.0 112.9h1M164.0 95.0h1M198.4 75.5h1M207.4 68.6h1M177.5 80.9h1M113.8 142.4h1M169.7 112.0h1M171.0 110.0h1M94.1 190.0h1M136.3 123.6h1M113.7 167.4h1M192.6 71.3h1M182.9 78.7h1M191.6 82.4h1M152.1 130.8h1M139.8 120.3h1M181.3 96.0h1M172.6 82.8h1M104.9 152.5h1M171.0 108.8h1M89.4 174.2h1M124.4 137.6h1M182.7 76.2h1M139.6 115.9h1M103.8 158.0h1M143.7 113.8h1M129.6 154.6h1M156.5 125.4h1M92.8 172.5h1M174.4 108.2h1M179.8 81.3h1M113.6 170.8h1M146.9 135.1h1M110.1 170.0h1M103.3 176.6h1M72.7 191.9h1M131.1 130.1h1M188.9 86.2h1M151.5 130.2h1M111.0 147.5h1M181.8 75.6h1M163.5 96.2h1M187.3 90.8h1M77.0 199.1h1M91.3 191.8h1M99.2 160.0h1M152.1 109.6h1M131.4 126.7h1M81.8 196.5h1M162.4 119.0h1M172.2 108.3h1M104.6 154.1h1M179.3 97.1h1M87.3 174.9h1M78.8 187.4h1M125.8 133.7h1M155.4 102.8h1M113.1 168.2h1M146.6 134.4h1M159.0 103.2h1M90.8 186.3h1M151.3 108.1h1M157.5 102.8h1M182.5 95.3h1M167.5 115.7h1M205.5 67.3h1M181.2 96.9h1M173.5 109.3h1M76.3 200.6h1M195.4 66.3h1M151.9 129.4h1M174.2 105.1h1M163.7 115.2h1M165.1 95.5h1M184.3 92.7h1M87.1 191.5h1M100.0 181.8h1M95.5 184.0h1M163.6 98.3h1M161.4 118.0h1M158.5 103.7h1M123.0 135.2h1M172.6 88.8h1M187.4 93.0h1M131.7 148.9h1M166.3 93.1h1M181.1 96.3h1M198.1 61.9h1M90.5 187.6h1M125.8 137.0h1M112.9 169.9h1M90.5 187.1h1M109.5 174.4h1M57.1 211.9h1M152.9 104.5h1M84.5 193.4h1M133.0 148.2h1M60.4 205.5h1M126.7 135.7h1M98.5 185.4h1M200.0 72.5h1M213.3 53.3h1M124.7 157.9h1M175.0 102.7h1M158.8 102.2h1M143.6 140.8h1M154.4 105.5h1M210.3 57.9h1M91.2 170.7h1M69.5 194.4h1M202.4 63.2h1M90.5 171.6h1M201.0 59.6h1M72.1 202.1h1M168.3 92.8h1M174.4 86.0h1M235.5 36.4h1M206.2 59.5h1M175.7 84.2h1M132.1 125.5h1M190.4 87.2h1M81.8 195.4h1M160.6 96.8h1M107.0 174.3h1M200.8 72.6h1M148.7 111.6h1M166.7 117.1h1M150.1 132.6h1M177.6 81.8h1M193.9 69.1h1M84.6 191.2h1M81.1 185.8h1M146.9 113.9h1M76.3 191.0h1M114.9 146.0h1M179.6 98.4h1M207.0 59.3h1M126.1 154.0h1M129.2 130.8h1M95.9 165.2h1M197.1 67.1h1M211.6 55.8h1M140.0 142.3h1M163.5 117.5h1M95.1 168.9h1M81.3 199.7h1M176.5 105.0h1M69.4 205.2h1M144.1 113.6h1M117.8 164.6h1M90.2 175.6h1M106.3 174.8h1M116.2 146.1h1M137.7 143.0h1M97.6 163.4h1M143.2 113.9h1M64.1 207.7h1M148.9 113.2h1M174.9 103.8h1M100.5 160.6h1M170.5 110.0h1M169.4 111.4h1M161.9 117.5h1M98.3 180.3h1M163.1 116.5h1M114.9 170.4h1M123.8 133.1h1M130.7 130.3h1M112.6 168.1h1M111.4 149.1h1M206.4 59.5h1M173.2 109.0h1M131.0 151.3h1M124.2 136.9h1M98.2 183.5h1M180.5 96.6h1M115.7 170.1h1M202.8 62.6h1M169.7 110.1h1M202.8 70.0h1M215.9 58.3h1M109.7 153.1h1M172.6 105.7h1M201.2 77.1h1M136.5 120.1h1M134.0 123.5h1M98.3 164.1h1M91.1 187.9h1M154.2 105.5h1M95.3 169.3h1M116.6 164.5h1M99.7 159.7h1M116.3 144.1h1M153.6 127.7h1M142.6 117.8h1M89.8 189.5h1M183.4 74.5h1M83.2 182.6h1M163.8 115.7h1M96.9 165.4h1M125.4 159.5h1M192.7 83.2h1M142.9 140.2h1M108.3 152.2h1M161.0 120.9h1M121.5 136.5h1M156.0 124.8h1M111.5 170.3h1M140.3 119.6h1M158.2 124.0h1M160.5 95.8h1M208.1 56.1h1M138.6 143.0h1M74.6 188.7h1M195.5 79.1h1M104.6 176.0h1M211.9 61.2h1M100.1 158.0h1M168.5 112.7h1M169.6 112.4h1M179.2 84.1h1M168.6 113.7h1M201.5 59.7h1M99.4 184.9h1M170.1 110.0h1M195.4 69.4h1M114.5 147.2h1M107.1 176.2h1M181.1 100.4h1M75.3 203.6h1M99.5 182.0h1M85.8 190.8h1M148.3 113.9h1M110.3 152.7h1M190.1 73.5h1M87.3 178.2h1M154.2 126.7h1M147.9 113.1h1M181.8 94.9h1M85.3 193.0h1M174.4 105.6h1M175.8 85.7h1M142.9 137.1h1M148.2 114.0h1M170.7 91.3h1M120.5 160.2h1M190.9 70.5h1M106.4 175.6h1M105.3 175.7h1M79.7 199.1h1M175.6 84.8h1M63.4 200.6h1M185.3 76.0h1M177.2 83.8h1M165.8 93.6h1M136.3 124.4h1M131.6 150.1h1M182.6 98.1h1M133.6 126.5h1M180.4 82.9h1M193.3 70.5h1M119.5 163.7h1M141.2 119.5h1M158.5 124.1h1M171.7 108.5h1M164.8 94.1h1M107.8 152.4h1M162.7 120.9h1M173.5 87.5h1M61.8 203.2h1M93.0 187.3h1M167.3 114.2h1M106.6 156.1h1M222.5 44.8h1M168.7 90.0h1M125.6 136.7h1M146.6 135.1h1M143.0 139.6h1M140.4 142.0h1M95.7 184.3h1M136.8 120.6h1M217.3 57.0h1M100.9 160.1h1M178.7 99.6h1M89.8 189.4h1M168.6 91.0h1M64.9 208.7h1M161.4 123.0h1M126.1 154.7h1M141.4 119.1h1M82.9 193.4h1M131.3 130.2h1M169.3 112.8h1M59.2 207.0h1M170.7 89.4h1M132.4 126.8h1M176.6 103.0h1M146.8 134.7h1M92.2 187.5h1M72.7 204.6h1M163.4 117.6h1M188.8 69.1h1M83.1 195.3h1M146.8 112.7h1M104.8 176.5h1M222.6 49.0h1M158.5 100.0h1M175.7 85.9h1M76.3 186.4h1M202.2 62.3h1M133.2 127.5h1M207.8 65.7h1M115.3 164.8h1M174.0 86.0h1M128.1 154.4h1M154.0 128.0h1M146.2 136.6h1M157.2 100.5h1M141.1 140.3h1M123.1 156.7h1M109.6 170.8h1M182.8 94.5h1M141.0 121.7h1M218.5 54.2h1M124.8 136.0h1M133.0 127.8h1M70.7 194.3h1M117.3 145.7h1M179.2 81.6h1M133.7 148.4h1M116.9 141.5h1M149.8 134.8h1M188.3 75.8h1M150.4 134.6h1M89.2 189.1h1M169.8 92.2h1M112.8 148.2h1M155.9 103.4h1M76.0 190.7h1M104.8 175.2h1M122.9 133.5h1M192.1 67.9h1M92.0 171.5h1M95.1 164.9h1M180.3 101.7h1M127.1 153.9h1M158.3 122.4h1M170.4 109.1h1M115.0 165.2h1M166.9 93.6h1M71.5 194.6h1M157.8 102.8h1M160.6 120.5h1M129.2 152.1h1M118.2 138.5h1M67.9 205.6h1M61.1 202.9h1M126.3 133.6h1M119.8 140.5h1M188.6 71.5h1M129.3 133.3h1M111.5 175.1h1M186.0 91.2h1M65.8 200.0h1M121.1 159.3h1M105.2 179.5h1M204.4 62.3h1M56.6 212.1h1M190.5 72.5h1M150.3 133.4h1M109.3 152.0h1M163.7 97.9h1M109.5 150.2h1M150.4 131.9h1M82.4 196.6h1M162.8 97.7h1M152.6 128.0h1M81.3 196.7h1M80.7 199.8h1M148.8 136.2h1M128.0 132.1h1M58.1 211.6h1M89.2 173.1h1M180.9 95.4h1M115.6 167.9h1M155.7 127.8h1M95.2 168.0h1M208.0 66.6h1M196.8 80.9h1M113.0 148.6h1M147.7 113.8h1M126.4 154.6h1M198.4 77.1h1M144.9 135.7h1M123.1 157.8h1M102.3 160.1h1M113.6 145.7h1M138.1 123.8h1M96.2 168.0h1M196.3 67.5h1M174.5 104.8h1M87.5 176.1h1M88.1 189.7h1M121.9 161.6h1M184.2 78.8h1M202.7 70.3h1M141.9 117.1h1M114.7 165.6h1M131.2 130.8h1M195.6 68.2h1M136.0 147.9h1M156.0 126.9h1M172.4 106.6h1M97.7 167.0h1M179.9 101.6h1M175.8 86.7h1M136.3 125.1h1M66.8 205.4h1M171.9 108.7h1M165.9 118.8h1M176.1 83.4h1M142.8 140.2h1M146.9 114.3h1M173.9 88.1h1M130.7 129.2h1M181.0 78.7h1M121.7 159.7h1M179.2 96.9h1M93.7 169.9h1M199.7 74.9h1M163.5 121.1h1M190.4 84.4h1M206.1 68.4h1M186.3 73.8h1M146.4 139.1h1M144.4 141.5h1M129.2 151.1h1M130.9 152.6h1M183.4 76.7h1M189.0 87.1h1M152.0 110.2h1M130.9 131.2h1M109.6 153.8h1M129.7 152.8h1M167.6 116.1h1M75.1 199.1h1M149.4 132.6h1M189.3 86.1h1M233.9 37.4h1M79.6 186.7h1M191.7 86.8h1M136.7 150.1h1M166.5 116.1h1M86.1 179.1h1M96.9 162.6h1M208.6 55.9h1M192.8 80.9h1M120.5 142.1h1M215.1 57.5h1M121.2 160.5h1M69.9 205.0h1M196.8 66.2h1M221.1 52.1h1M103.7 157.8h1M184.6 75.3h1M167.1 93.5h1M71.1 192.8h1M136.6 124.7h1M152.6 103.9h1M124.3 137.1h1M123.6 138.6h1M188.1 75.5h1M149.7 135.4h1M136.5 146.9h1M162.0 96.9h1M212.0 59.8h1M85.8 177.1h1M202.1 77.4h1M122.4 139.3h1M150.5 132.3h1M128.0 154.5h1M189.2 85.9h1M95.1 182.8h1M66.7 205.3h1M105.0 158.8h1M85.1 192.7h1M57.8 209.4h1M147.2 135.8h1M94.7 185.4h1M76.3 190.2h1M139.0 123.2h1M116.3 165.4h1M129.5 151.4h1M163.8 95.9h1M177.7 85.1h1M139.8 120.3h1M148.3 112.5h1M116.9 145.0h1M148.5 112.8h1M60.9 205.1h1M149.5 131.4h1M182.7 75.7h1M119.0 162.9h1M139.2 143.2h1M184.5 95.9h1M159.2 102.1h1M195.5 66.4h1M152.8 127.4h1M186.9 87.5h1M163.8 94.5h1M145.1 135.4h1M110.7 172.3h1M77.3 200.8h1M169.2 112.5h1M171.0 89.7h1M80.1 197.3h1M107.4 150.5h1M118.1 162.7h1M104.9 182.2h1M119.0 162.2h1M117.4 145.0h1M187.9 71.6h1M121.2 141.4h1M176.3 104.2h1M131.5 129.2h1M160.1 122.9h1M102.1 184.4h1M184.1 92.3h1M109.0 152.8h1M171.3 87.0h1M145.7 137.1h1M151.2 106.2h1M152.6 131.9h1M148.2 113.5h1M172.4 85.7h1M165.5 115.2h1M112.5 170.0h1M92.3 185.3h1M192.9 69.9h1M116.3 164.9h1M72.0 206.1h1M150.5 108.7h1M165.5 91.6h1M98.8 160.6h1M180.2 77.5h1M128.8 155.5h1M110.0 174.6h1M139.1 119.0h1M205.4 56.3h1M83.2 183.5h1M76.3 191.1h1M116.4 144.0h1M174.1 86.0h1M93.6 186.3h1M97.6 165.9h1M65.5 200.4h1M190.3 70.8h1M80.2 184.3h1M138.7 141.3h1M146.9 115.4h1M73.9 202.1h1M174.7 84.3h1M89.8 193.2h1M145.5 139.3h1M164.5 117.4h1M151.8 129.8h1M120.5 160.6h1M161.3 121.8h1M154.6 103.0h1M138.6 141.8h1M82.4 182.0h1M136.6 124.1h1M220.7 54.1h1M215.4 58.4h1M170.9 86.2h1M152.2 130.6h1M147.3 114.2h1M126.0 156.2h1M97.4 181.7h1M68.7 196.4h1M152.5 108.0h1M179.1 80.5h1M116.6 141.8h1M109.5 150.2h1M58.8 210.2h1M106.9 174.8h1M197.1 76.1h1M138.3 123.7h1M148.3 110.8h1M164.8 93.1h1M173.2 106.1h1M175.4 86.3h1M138.9 146.3h1M149.9 106.2h1M148.8 113.8h1M139.0 143.8h1M170.4 108.7h1M91.0 174.0h1M99.2 186.6h1M140.8 120.5h1M159.8 123.9h1M165.8 96.3h1M104.9 176.4h1M105.3 156.5h1M125.7 155.2h1M113.2 148.1h1M187.0 75.3h1M111.2 171.9h1M71.8 204.2h1M83.3 183.0h1M156.7 124.2h1M160.9 120.7h1M233.8 38.3h1M153.9 128.7h1M142.9 116.6h1M183.5 78.4h1M183.0 97.7h1M234.8 36.1h1M192.1 82.1h1M168.8 92.5h1M157.3 101.8h1M106.2 155.8h1M90.0 175.5h1M137.8 124.4h1M177.3 104.2h1M194.6 68.6h1M137.1 125.3h1M153.8 106.2h1M98.3 180.9h1M136.3 148.0h1M134.7 149.1h1M209.4 54.7h1M212.2 52.7h1M101.4 160.0h1M67.0 197.0h1M114.1 148.0h1M179.0 82.8h1M183.7 91.9h1M155.8 125.3h1M115.7 165.3h1M214.6 58.6h1M201.2 74.2h1M170.8 90.2h1" stroke="#000" stroke-width="1" fill="none"/>
<path d="M100.1 157.3h1.2M88.2 148.7h1.2M86.7 152.3h1.2M143.6 110.9h1.2M162.0 94.2h1.2M96.2 145.9h1.2M115.9 132.0h1.2M168.3 73.5h1.2M91.1 158.6h1.2M101.5 148.1h1.2M143.7 110.5h1.2M91.2 167.3h1.2M150.0 105.3h1.2M80.0 180.7h1.2M125.1 119.2h1.2M113.2 141.6h1.2M93.2 164.0h1.2M115.6 141.6h1.2M155.3 88.4h1.2M102.8 132.2h1.2M158.9 90.5h1.2M71.4 183.3h1.2M96.4 148.4h1.2M118.2 125.3h1.2M90.2 167.2h1.2M90.6 165.4h1.2M114.7 137.3h1.2M177.0 70.6h1.2M123.7 130.7h1.2M136.4 120.4h1.2M80.6 162.9h1.2M93.2 162.6h1.2M102.2 151.9h1.2M167.2 84.2h1.2M100.3 157.5h1.2M168.1 82.4h1.2M188.8 66.2h1.2M97.6 154.0h1.2M158.5 82.1h1.2M148.5 107.7h1.2M110.4 140.9h1.2M135.5 120.0h1.2M104.7 142.5h1.2M64.2 192.8h1.2M107.5 128.5h1.2M189.4 55.6h1.2M121.2 117.2h1.2M132.5 123.9h1.2M112.7 144.4h1.2M86.8 160.9h1.2M166.2 89.6h1.2M131.2 113.8h1.2M175.6 71.5h1.2M135.5 113.1h1.2M177.5 78.7h1.2M104.7 149.4h1.2M183.1 49.0h1.2M95.8 161.7h1.2M117.6 137.4h1.2M179.7 66.6h1.2M141.3 111.9h1.2M114.9 135.0h1.2M135.4 115.3h1.2M104.0 152.1h1.2M90.4 156.9h1.2M126.9 121.7h1.2M157.3 98.1h1.2M152.9 99.8h1.2M101.3 126.8h1.2M99.7 156.2h1.2M173.4 71.6h1.2M109.2 139.1h1.2M79.8 178.7h1.2M114.1 129.9h1.2M164.2 64.3h1.2M153.9 85.6h1.2M128.7 119.9h1.2M80.8 171.0h1.2M150.3 102.0h1.2M81.4 178.0h1.2M159.2 79.3h1.2M94.5 163.2h1.2M134.3 118.2h1.2M93.9 144.8h1.2M83.8 168.3h1.2M175.6 80.3h1.2M120.4 136.3h1.2M122.5 134.2h1.2M116.5 133.1h1.2M139.6 113.0h1.2M82.5 158.3h1.2M125.5 122.0h1.2M111.6 122.4h1.2M115.2 139.9h1.2M109.4 136.9h1.2M109.1 143.5h1.2M96.6 159.5h1.2M100.4 154.3h1.2M130.8 118.4h1.2M63.6 194.9h1.2M59.1 194.1h1.2M92.8 149.8h1.2M126.2 121.3h1.2M142.7 106.3h1.2M135.9 107.5h1.2M75.8 175.9h1.2M150.6 103.6h1.2M101.5 138.8h1.2M166.8 87.6h1.2M111.4 140.2h1.2M119.0 136.4h1.2M101.8 139.1h1.2M90.9 151.4h1.2M177.5 78.7h1.2M162.8 91.2h1.2M81.6 174.0h1.2M195.8 54.4h1.2M93.4 158.3h1.2M132.5 123.0h1.2M169.5 81.8h1.2M83.7 167.8h1.2M112.1 142.5h1.2M156.4 100.2h1.2M94.2 156.8h1.2M84.2 176.5h1.2M138.9 116.7h1.2M87.4 168.6h1.2M105.5 146.4h1.2M76.9 171.9h1.2M65.6 187.6h1.2M123.0 132.1h1.2M92.4 144.2h1.2M134.9 119.3h1.2M80.2 168.2h1.2M81.9 177.7h1.2M131.1 118.6h1.2M131.6 124.7h1.2M98.2 123.1h1.2M131.3 121.9h1.2M97.0 161.1h1.2M91.0 160.2h1.2M92.7 156.0h1.2M97.6 161.3h1.2M71.8 190.1h1.2M128.6 112.7h1.2M116.5 127.7h1.2M116.5 139.5h1.2M90.5 165.4h1.2M117.6 124.5h1.2M149.3 103.0h1.2M147.3 106.2h1.2M119.4 127.7h1.2M131.8 113.8h1.2M132.0 122.6h1.2M152.3 92.4h1.2M149.5 104.4h1.2M102.7 151.7h1.2M150.1 100.0h1.2M124.6 114.7h1.2M100.7 151.1h1.2M110.6 143.7h1.2M112.5 137.2h1.2M77.4 176.8h1.2M99.4 157.2h1.2M128.3 112.3h1.2M130.0 111.0h1.2M86.3 169.6h1.2M90.3 169.1h1.2M127.7 128.2h1.2M149.2 101.2h1.2M106.6 133.6h1.2M96.7 143.6h1.2M132.8 114.6h1.2M146.1 104.4h1.2M100.9 146.9h1.2" stroke="#ff2c2c" stroke-width="1.2" fill="none"/>
<path d="M113.2 175.5h1.2M107.2 184.9h1.2M181.0 101.7h1.2M124.9 163.6h1.2M183.6 99.4h1.2M131.9 155.5h1.2M107.2 183.2h1.2M146.6 142.3h1.2M164.5 120.0h1.2M122.2 166.3h1.2M113.7 173.8h1.2M136.3 150.1h1.2M103.9 183.6h1.2M107.3 181.7h1.2M168.9 115.3h1.2M147.0 140.9h1.2M142.7 143.8h1.2M119.0 173.8h1.2M157.7 127.4h1.2M116.3 170.3h1.2M131.1 154.7h1.2M173.1 113.5h1.2M123.3 163.5h1.2M113.0 173.1h1.2M119.1 171.9h1.2M138.4 147.3h1.2M173.4 111.1h1.2M97.5 190.2h1.2M155.6 133.6h1.2M107.9 183.4h1.2M112.9 175.1h1.2M194.4 88.0h1.2M128.1 160.1h1.2M136.9 151.3h1.2M140.9 151.1h1.2M156.2 130.0h1.2M156.1 131.9h1.2M119.6 168.8h1.2M140.5 145.5h1.2M139.9 147.6h1.2M136.7 153.2h1.2M151.1 140.2h1.2M112.8 177.9h1.2M168.4 115.5h1.2M130.5 160.4h1.2M121.3 171.2h1.2M101.4 187.8h1.2M192.4 89.4h1.2M135.8 151.7h1.2M128.2 158.2h1.2M153.8 132.7h1.2M143.1 142.6h1.2M196.4 92.1h1.2M120.9 168.1h1.2M138.7 150.6h1.2M115.3 174.7h1.2M133.5 154.5h1.2M146.4 139.2h1.2M136.4 152.4h1.2M111.6 175.3h1.2M137.7 148.3h1.2M158.9 126.6h1.2M133.4 154.2h1.2M112.5 177.1h1.2M85.7 196.9h1.2M158.4 129.2h1.2M152.4 138.6h1.2M151.1 138.4h1.2M115.9 177.0h1.2M151.9 134.6h1.2M160.3 125.0h1.2M162.9 124.6h1.2M110.4 180.4h1.2M153.5 133.3h1.2M160.6 125.7h1.2M173.6 109.9h1.2M103.8 184.5h1.2M135.3 152.0h1.2M123.7 164.7h1.2M194.7 86.2h1.2M158.7 127.4h1.2M133.2 154.2h1.2M165.0 120.3h1.2M98.9 189.3h1.2M170.8 120.0h1.2M126.1 159.8h1.2M103.3 182.6h1.2M139.4 147.1h1.2M130.8 157.8h1.2M133.3 153.3h1.2M112.5 177.6h1.2M95.2 190.4h1.2M136.1 155.8h1.2M127.5 160.8h1.2M136.3 153.3h1.2M137.0 156.1h1.2M139.2 146.6h1.2M180.4 101.8h1.2M99.4 186.3h1.2M147.2 140.8h1.2M104.9 183.0h1.2M151.2 137.3h1.2M142.0 144.5h1.2M102.5 182.8h1.2M109.8 177.3h1.2M146.4 141.1h1.2M148.8 137.8h1.2M114.4 173.4h1.2M164.0 121.5h1.2M111.9 179.9h1.2M107.3 180.9h1.2M128.5 158.5h1.2M172.9 111.3h1.2M162.7 128.2h1.2M165.2 130.3h1.2M159.5 125.4h1.2M124.0 161.7h1.2M121.7 165.4h1.2M129.3 162.1h1.2M183.6 100.8h1.2M136.9 153.9h1.2M103.5 181.8h1.2M171.8 113.7h1.2M168.0 118.8h1.2M138.8 148.0h1.2M155.3 137.3h1.2M137.5 148.7h1.2M129.1 157.3h1.2M164.9 120.3h1.2M138.9 147.9h1.2M103.3 188.3h1.2M148.2 140.7h1.2M123.9 169.5h1.2M133.3 153.5h1.2M99.7 187.8h1.2M146.8 141.4h1.2M109.2 177.7h1.2M132.4 153.1h1.2M96.1 189.7h1.2M107.2 181.1h1.2M117.3 172.3h1.2M124.0 162.6h1.2M126.0 162.8h1.2M142.6 148.3h1.2M123.5 168.1h1.2M117.1 173.1h1.2M164.1 123.4h1.2M118.1 167.6h1.2M124.4 162.6h1.2M188.5 92.3h1.2" stroke="#1ee01e" stroke-width="1.2" fill="none"/>
<!-- Panel B -->
<text class="b" x="1.5" y="276.3" font-size="19">B</text>
<text class="b" x="101.3" y="280" font-size="12.2" text-anchor="middle">Control</text>
<text class="b" x="212.5" y="280" font-size="12.2" text-anchor="middle">ART</text>
<path d="M67 283.1H140.8M94.5 283.1v-1.8M103 283.1v-1.8M175 283.1H249M203 283.1v-1.8M212 283.1v-1.8" stroke="#9898d6" stroke-width="1.4" fill="none"/>
<g shape-rendering="crispEdges">
<rect x="49" y="284" width="36.8" height="22.4" fill="#00f000"/><rect x="160" y="284" width="34.3" height="22.4" fill="#ff0000"/><rect x="85.5" y="284" width="36.8" height="22.4" fill="#00bb00"/><rect x="194" y="284" width="36.3" height="22.4" fill="#cc0000"/><rect x="122" y="284" width="36.8" height="22.4" fill="#00f400"/><rect x="230" y="284" width="34.2" height="22.4" fill="#c00000"/>
<rect x="49" y="306.1" width="36.8" height="22.5" fill="#00c000"/><rect x="160" y="306.1" width="34.3" height="22.5" fill="#dd0000"/><rect x="85.5" y="306.1" width="36.8" height="22.5" fill="#00b800"/><rect x="194" y="306.1" width="36.3" height="22.5" fill="#ff0000"/><rect x="122" y="306.1" width="36.8" height="22.5" fill="#00d000"/><rect x="230" y="306.1" width="34.2" height="22.5" fill="#c00000"/>
<rect x="49" y="328.3" width="36.8" height="22.4" fill="#009a00"/><rect x="160" y="328.3" width="34.3" height="22.4" fill="#c00000"/><rect x="85.5" y="328.3" width="36.8" height="22.4" fill="#009000"/><rect x="194" y="328.3" width="36.3" height="22.4" fill="#8c0000"/><rect x="122" y="328.3" width="36.8" height="22.4" fill="#00d000"/><rect x="230" y="328.3" width="34.2" height="22.4" fill="#980000"/>
<rect x="49" y="350.4" width="36.8" height="22.5" fill="#00e800"/><rect x="160" y="350.4" width="34.3" height="22.5" fill="#ff0000"/><rect x="85.5" y="350.4" width="36.8" height="22.5" fill="#009000"/><rect x="194" y="350.4" width="36.3" height="22.5" fill="#8c0000"/><rect x="122" y="350.4" width="36.8" height="22.5" fill="#00c800"/><rect x="230" y="350.4" width="34.2" height="22.5" fill="#a00000"/>
<rect x="49" y="372.6" width="36.8" height="22.4" fill="#008800"/><rect x="160" y="372.6" width="34.3" height="22.4" fill="#c00000"/><rect x="85.5" y="372.6" width="36.8" height="22.4" fill="#008a00"/><rect x="194" y="372.6" width="36.3" height="22.4" fill="#900000"/><rect x="122" y="372.6" width="36.8" height="22.4" fill="#008c00"/><rect x="230" y="372.6" width="34.2" height="22.4" fill="#800000"/>
<rect x="49" y="394.7" width="36.8" height="22.5" fill="#00c800"/><rect x="160" y="394.7" width="34.3" height="22.5" fill="#ff0000"/><rect x="85.5" y="394.7" width="36.8" height="22.5" fill="#005a00"/><rect x="194" y="394.7" width="36.3" height="22.5" fill="#cc0000"/><rect x="122" y="394.7" width="36.8" height="22.5" fill="#009800"/><rect x="230" y="394.7" width="34.2" height="22.5" fill="#5c0000"/>
<rect x="49" y="416.9" width="36.8" height="22.4" fill="#5c0000"/><rect x="160" y="416.9" width="34.3" height="22.4" fill="#007800"/><rect x="85.5" y="416.9" width="36.8" height="22.4" fill="#580000"/><rect x="194" y="416.9" width="36.3" height="22.4" fill="#005800"/><rect x="122" y="416.9" width="36.8" height="22.4" fill="#5a0000"/><rect x="230" y="416.9" width="34.2" height="22.4" fill="#005400"/>
<rect x="49" y="439" width="36.8" height="22.5" fill="#5c0000"/><rect x="160" y="439" width="34.3" height="22.5" fill="#005400"/><rect x="85.5" y="439" width="36.8" height="22.5" fill="#700000"/><rect x="194" y="439" width="36.3" height="22.5" fill="#007000"/><rect x="122" y="439" width="36.8" height="22.5" fill="#500000"/><rect x="230" y="439" width="34.2" height="22.5" fill="#006400"/>
<rect x="49" y="461.2" width="36.8" height="22.4" fill="#5c0000"/><rect x="160" y="461.2" width="34.3" height="22.4" fill="#009800"/><rect x="85.5" y="461.2" width="36.8" height="22.4" fill="#580000"/><rect x="194" y="461.2" width="36.3" height="22.4" fill="#005c00"/><rect x="122" y="461.2" width="36.8" height="22.4" fill="#680000"/><rect x="230" y="461.2" width="34.2" height="22.4" fill="#006800"/>
<rect x="49" y="483.3" width="36.8" height="22.5" fill="#700000"/><rect x="160" y="483.3" width="34.3" height="22.5" fill="#009c00"/><rect x="85.5" y="483.3" width="36.8" height="22.5" fill="#540000"/><rect x="194" y="483.3" width="36.3" height="22.5" fill="#006c00"/><rect x="122" y="483.3" width="36.8" height="22.5" fill="#700000"/><rect x="230" y="483.3" width="34.2" height="22.5" fill="#005800"/>
<rect x="49" y="505.5" width="36.8" height="22.4" fill="#500000"/><rect x="160" y="505.5" width="34.3" height="22.4" fill="#00a800"/><rect x="85.5" y="505.5" width="36.8" height="22.4" fill="#500000"/><rect x="194" y="505.5" width="36.3" height="22.4" fill="#007000"/><rect x="122" y="505.5" width="36.8" height="22.4" fill="#700000"/><rect x="230" y="505.5" width="34.2" height="22.4" fill="#005c00"/>
</g>
<rect x="158.5" y="283.5" width="1.5" height="245" fill="#fff"/>
<text class="b" x="265.5" y="300" font-size="12">ID4</text>
<text class="b" x="265.5" y="322" font-size="12">JUN</text>
<text class="b" x="265.5" y="346.2" font-size="12">KLF2</text>
<text class="b" x="265.5" y="369.2" font-size="12">KLF4</text>
<text class="b" x="265.5" y="391.2" font-size="12">KLF6</text>
<text class="b" x="265.5" y="412" font-size="12">FOS</text>
<text class="b" x="265.5" y="435.7" font-size="12">PON2</text>
<text class="b" x="265.5" y="455.7" font-size="12">TMEM35</text>
<text class="b" x="267" y="477.7" font-size="12">SSTR2</text>
<text class="b" x="265.5" y="501.2" font-size="12">CD24</text>
<text class="b" x="267" y="523.2" font-size="12">RBM12</text>
<text class="b" transform="translate(30 408.5) rotate(-90)" font-size="12.45" text-anchor="middle">Oncogenes&amp;tumor suppressor genes</text>
<path d="M38.5 549V531.7H353.5" fill="none" stroke="#cfd8ea" stroke-width="1"/>
<rect x="42.3" y="532.4" width="6" height="5.5" fill="#00ff00"/><rect x="48" y="534.9" width="216" height="3" fill="url(#cb)"/><rect x="263.9" y="532.4" width="12.9" height="5.5" fill="#ff0000"/>
<text x="43" y="547.5" font-size="7.5">-1.5</text><text x="159.6" y="547.5" font-size="7.5" text-anchor="middle">0.0</text><text x="271.8" y="547.5" font-size="7.5" text-anchor="middle">1.5</text>
<!-- Panel C -->
<text class="b" x="376.8" y="24.4" font-size="21.3">C</text>
<path d="M426.2 50.8V199.6M425 199.6H636" fill="none" stroke="#000" stroke-width="2.8" stroke-linecap="round"/>
<path d="M421 199.6H426M421 150.4H426M421 101.2H426M421 52.0H426" stroke="#000" stroke-width="2.4" fill="none"/>
<text class="b" x="420.6" y="203.6" font-size="11.2" text-anchor="end">0</text>
<text class="b" x="420.6" y="154.4" font-size="11.2" text-anchor="end">2</text>
<text class="b" x="420.6" y="105.2" font-size="11.2" text-anchor="end">4</text>
<text class="b" x="420.6" y="56.0" font-size="11.2" text-anchor="end">6</text>
<rect x="444.1" y="174.3" width="69.3" height="25.3" fill="#fff" stroke="#000" stroke-width="2.8"/>
<rect x="548.1" y="94.9" width="68.8" height="104.7" fill="#a0a0a4" stroke="#000" stroke-width="2.8"/>
<path d="M582.5 94V62M565.3 62H600.3" stroke="#000" stroke-width="2.8" stroke-linecap="round" fill="none"/>
<text class="b" x="583.5" y="61.3" font-size="17" text-anchor="middle">*</text>
<text class="b" transform="translate(395 129) rotate(-90)" font-size="12.3" text-anchor="middle">Relative KLF6 mRNA</text>
<text class="b" transform="translate(409.5 132) rotate(-90)" font-size="12.3" text-anchor="middle">expression</text>
<rect x="624.8" y="58" width="15.4" height="8.2" rx="2" fill="#fff" stroke="#000" stroke-width="2.5"/><rect x="624.8" y="75" width="15.4" height="8.2" rx="2" fill="#a0a0a4" stroke="#000" stroke-width="2.5"/>
<text x="648.3" y="65.8" font-size="13" textLength="36.5" lengthAdjust="spacingAndGlyphs">Control</text><text x="648.3" y="83.3" font-size="12.6" textLength="22" lengthAdjust="spacingAndGlyphs">ART</text>
<!-- Panel D -->
<text class="b" x="358" y="243.3" font-size="20.5">D</text>
<text class="b" x="484.6" y="248.8" font-size="12.1" text-anchor="middle">Control</text><text class="b" x="559.3" y="248.8" font-size="12.1" text-anchor="middle">ART</text>
<text class="b" x="381" y="285" font-size="12.7">KLF6</text><text class="b" x="381" y="338.7" font-size="12">Tubulin</text>
<rect x="424.5" y="251.3" width="191.5" height="54.4" fill="#acacac"/>
<rect x="424.5" y="251.3" width="191.5" height="54.4" filter="url(#nz)"/>
<rect x="424.5" y="251.3" width="191.5" height="54.4" fill="url(#g1)"/>
<rect x="424.5" y="251.3" width="191.5" height="54.4" fill="url(#g1v)"/>
<ellipse cx="436" cy="290" rx="9" ry="9" fill="#fff" opacity="0.22" filter="url(#bl1)"/>
<path d="M455.5 281.3C468 277.8 500 278.4 517 279.4C502 283.4 468 283.6 455.5 281.3Z" fill="#3c3c3c" filter="url(#bl3)"/>
<path d="M534.5 279.6C536 276.6 560 276.2 580 275.6C588 275.4 590 277 589.6 279.4C589 282.4 575 282.6 560 282.6C548 282.6 534 282.4 534.5 279.6Z" fill="#404040" filter="url(#bl3)"/>
<path d="M424.5 305.7V251.8H616V305.7" fill="none" stroke="#555" stroke-width="1"/><path d="M424.5 305.2H616" stroke="#444" stroke-width="1"/>
<rect x="424.5" y="311.3" width="191.5" height="52.4" fill="#c6c6c6"/>
<rect x="424.5" y="311.3" width="191.5" height="52.4" filter="url(#nz2)"/>
<rect x="424.5" y="311.3" width="191.5" height="52.4" fill="url(#g2v)"/>
<path d="M457 339.8C458 337.2 470 337.4 490 337.8C505 338 518 337 522.5 338.8C523 342.2 505 344.2 488 344.2C472 344.2 457 343.4 457 339.8Z" fill="#0c0c0c" filter="url(#bl2)"/>
<path d="M529 338.8C530 336.2 560 336.8 575 335.8C585 335.2 589 336 589 338.2C589 341.2 575 342 560 342.6C545 343.2 529 343 529 338.8Z" fill="#0c0c0c" filter="url(#bl2)"/>
<rect x="520" y="339" width="11" height="2.6" fill="#444" filter="url(#bl2)"/>
<path d="M424.5 363.7V311.8H616V363.7" fill="none" stroke="#555" stroke-width="1"/><path d="M424.5 363.4H616" stroke="#333" stroke-width="1.2"/>
<path d="M616 277.5H632M616 337.5H632" stroke="#000" stroke-width="1.6" fill="none"/>
<text class="b" x="634.5" y="283" font-size="12.3">46kDa</text><text class="b" x="634.5" y="342" font-size="12.3">55kDa</text>
<!-- Panel E -->
<text class="b" x="358.6" y="398.7" font-size="19.5">E</text>
<path d="M427.2 388.7V536.3M426 536.3H636" fill="none" stroke="#000" stroke-width="2.8" stroke-linecap="round"/>
<path d="M421.8 536.3H427M421.8 499.7H427M421.8 463.1H427M421.8 426.5H427M421.8 389.9H427" stroke="#000" stroke-width="2.4" fill="none"/>
<text class="b" x="421.4" y="540.3" font-size="11.2" text-anchor="end">0</text>
<text class="b" x="421.4" y="503.7" font-size="11.2" text-anchor="end">1</text>
<text class="b" x="421.4" y="467.1" font-size="11.2" text-anchor="end">2</text>
<text class="b" x="421.4" y="430.5" font-size="11.2" text-anchor="end">3</text>
<text class="b" x="421.4" y="393.9" font-size="11.2" text-anchor="end">4</text>
<rect x="444.7" y="499.7" width="70.2" height="36.6" fill="#fff" stroke="#000" stroke-width="2.8"/>
<rect x="549.2" y="431" width="68.6" height="105.3" fill="#a0a0a4" stroke="#000" stroke-width="2.8"/>
<path d="M583 430V415M565 415H601" stroke="#000" stroke-width="2.8" stroke-linecap="round" fill="none"/>
<text class="b" x="583" y="414.2" font-size="17" text-anchor="middle">*</text>
<text class="b" transform="translate(404 461.5) rotate(-90)" font-size="12.3" text-anchor="middle">Relative protein</text>
<rect x="622.3" y="396.3" width="15.2" height="7.6" rx="2" fill="#fff" stroke="#000" stroke-width="2.4"/><rect x="622.3" y="413.2" width="15.2" height="7.8" rx="2" fill="#a0a0a4" stroke="#000" stroke-width="2.4"/>
<text x="645.5" y="404" font-size="13" textLength="36.5" lengthAdjust="spacingAndGlyphs">Control</text><text x="645.5" y="420.6" font-size="12.6" textLength="21" lengthAdjust="spacingAndGlyphs">ART</text>
</svg>
</body></html>
